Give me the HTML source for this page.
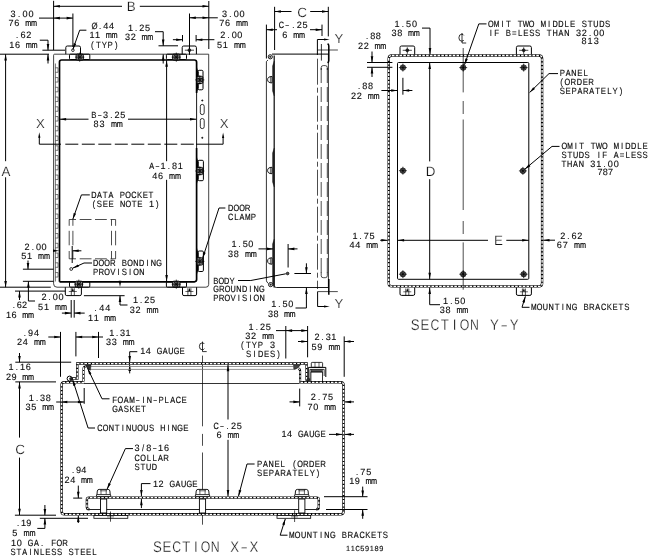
<!DOCTYPE html>
<html><head><meta charset="utf-8"><title>Enclosure drawing</title>
<style>
html,body{margin:0;padding:0;background:#fff;}
body{width:649px;height:556px;overflow:hidden;font-family:"Liberation Mono",monospace;}
svg{display:block;}
</style></head><body>
<svg width="649" height="556" viewBox="0 0 649 556" style="filter:grayscale(1)" text-rendering="geometricPrecision">
<defs><pattern id="h" width="3.2" height="3.2" patternUnits="userSpaceOnUse"><rect width="3.2" height="3.2" fill="#fff"/><path d="M-0.5 3.7 L3.7 -0.5 M-0.5 0.5 L0.5 -0.5 M2.7 3.7 L3.7 2.7" stroke="#222" stroke-width="0.75"/></pattern></defs>
<rect x="0" y="0" width="649" height="556" fill="#fff"/>
<line x1="53.6" y1="0.8" x2="53.6" y2="50" stroke="#000" stroke-width="1"/>
<line x1="208.8" y1="1" x2="208.8" y2="49" stroke="#000" stroke-width="1"/>
<line x1="53.6" y1="6.3" x2="122" y2="6.3" stroke="#000" stroke-width="1"/>
<line x1="139.8" y1="6.3" x2="208.8" y2="6.3" stroke="#000" stroke-width="1"/>
<path d="M53.6 6.3 L59.9 5 L59.9 7.6 Z" fill="#000"/>
<path d="M208.8 6.3 L202.5 7.6 L202.5 5 Z" fill="#000"/>
<text x="126.8" y="10.6" font-family="'Liberation Sans', monospace" font-size="13.4" letter-spacing="0.000" fill="#111" stroke="#fff" stroke-width="0.22" xml:space="preserve">B</text>
<line x1="39" y1="18.1" x2="72.9" y2="18.1" stroke="#000" stroke-width="1"/>
<path d="M53.6 18.1 L59.9 16.8 L59.9 19.4 Z" fill="#000"/>
<path d="M72.9 18.1 L66.6 19.4 L66.6 16.8 Z" fill="#000"/>
<line x1="72.9" y1="13.5" x2="72.9" y2="47" stroke="#000" stroke-width="1"/>
<text transform="translate(0 16.6) scale(1 1)" x="10.5 22.53 28.55" y="0" font-family="'Liberation Sans', sans-serif" font-size="9.1" fill="#111" stroke="#000" stroke-width="0.12">300</text>
<text transform="translate(0 16.6) scale(0.86 1)" x="20.87" y="0" font-family="'Liberation Sans', sans-serif" font-size="9.1" fill="#111" stroke="#000" stroke-width="0.12">.</text>
<text transform="translate(0 26.3) scale(1 1)" x="8.5 14.23" y="0" font-family="'Liberation Sans', sans-serif" font-size="9.1" fill="#111" stroke="#000" stroke-width="0.12">76</text>
<text transform="translate(0 26.3) scale(0.8 1)" x="31.48 38.65" y="0" font-family="'Liberation Sans', sans-serif" font-size="9.1" fill="#111" stroke="#000" stroke-width="0.24">mm</text>
<text transform="translate(0 38.1) scale(0.86 1)" x="18.72" y="0" font-family="'Liberation Sans', sans-serif" font-size="9.1" fill="#111" stroke="#000" stroke-width="0.12">.</text>
<text transform="translate(0 38.1) scale(1 1)" x="20.51 26.35" y="0" font-family="'Liberation Sans', sans-serif" font-size="9.1" fill="#111" stroke="#000" stroke-width="0.12">62</text>
<text transform="translate(0 47.6) scale(1 1)" x="9.3 14.98" y="0" font-family="'Liberation Sans', sans-serif" font-size="9.1" fill="#111" stroke="#000" stroke-width="0.12">16</text>
<text transform="translate(0 47.6) scale(0.8 1)" x="32.3 39.4" y="0" font-family="'Liberation Sans', sans-serif" font-size="9.1" fill="#111" stroke="#000" stroke-width="0.24">mm</text>
<line x1="42.4" y1="50.2" x2="65" y2="50.2" stroke="#000" stroke-width="1"/>
<line x1="0" y1="54.2" x2="49" y2="54.2" stroke="#000" stroke-width="1"/>
<path d="M39.8 40.2 L48 40.2 L48 50.2" fill="none" stroke="#000" stroke-width="1"/>
<path d="M48 50.2 L46.7 43.9 L49.3 43.9 Z" fill="#000"/>
<line x1="48" y1="54.2" x2="48" y2="63.5" stroke="#000" stroke-width="1"/>
<path d="M48 54.2 L49.3 60.5 L46.7 60.5 Z" fill="#000"/>
<text transform="translate(0 28.5) scale(0.86 1)" x="106.4 115.23" y="0" font-family="'Liberation Sans', sans-serif" font-size="9.1" fill="#111" stroke="#000" stroke-width="0.12">Ø.</text>
<text transform="translate(0 28.5) scale(1 1)" x="103.31 108.95" y="0" font-family="'Liberation Sans', sans-serif" font-size="9.1" fill="#111" stroke="#000" stroke-width="0.12">44</text>
<text transform="translate(0 38.1) scale(1 1)" x="89.5 95.11" y="0" font-family="'Liberation Sans', sans-serif" font-size="9.1" fill="#111" stroke="#000" stroke-width="0.12">11</text>
<text transform="translate(0 38.1) scale(0.8 1)" x="132.27 139.28" y="0" font-family="'Liberation Sans', sans-serif" font-size="9.1" fill="#111" stroke="#000" stroke-width="0.24">mm</text>
<text transform="translate(0 47.5) scale(0.86 1)" x="105.81 111.5 118.2 125.14 133.58" y="0" font-family="'Liberation Sans', sans-serif" font-size="9.1" fill="#111" stroke="#000" stroke-width="0.12">(TYP)</text>
<line x1="86.4" y1="30.2" x2="79.7" y2="30.2" stroke="#000" stroke-width="1"/>
<line x1="79.7" y1="30.2" x2="72.9" y2="49.4" stroke="#000" stroke-width="1"/>
<path d="M72.9 49.4 L73.78 43.03 L76.23 43.9 Z" fill="#000"/>
<text transform="translate(0 30.5) scale(1 1)" x="128 139.3 144.95" y="0" font-family="'Liberation Sans', sans-serif" font-size="9.1" fill="#111" stroke="#000" stroke-width="0.12">125</text>
<text transform="translate(0 30.5) scale(0.86 1)" x="157.07" y="0" font-family="'Liberation Sans', sans-serif" font-size="9.1" fill="#111" stroke="#000" stroke-width="0.12">.</text>
<text transform="translate(0 40.2) scale(1 1)" x="125 130.71" y="0" font-family="'Liberation Sans', sans-serif" font-size="9.1" fill="#111" stroke="#000" stroke-width="0.12">32</text>
<text transform="translate(0 40.2) scale(0.8 1)" x="177.02 184.15" y="0" font-family="'Liberation Sans', sans-serif" font-size="9.1" fill="#111" stroke="#000" stroke-width="0.24">mm</text>
<path d="M155 31.7 L163.2 31.7 L163.2 45.8" fill="none" stroke="#000" stroke-width="1"/>
<path d="M163.2 45.8 L161.9 39.5 L164.5 39.5 Z" fill="#000"/>
<line x1="158.5" y1="45.8" x2="178" y2="45.8" stroke="#000" stroke-width="1"/>
<line x1="163.2" y1="54.2" x2="163.2" y2="63.5" stroke="#000" stroke-width="1"/>
<path d="M163.2 54.2 L164.5 60.5 L161.9 60.5 Z" fill="#000"/>
<line x1="189.5" y1="17.8" x2="217.8" y2="17.8" stroke="#000" stroke-width="1"/>
<path d="M189.5 17.8 L195.8 16.5 L195.8 19.1 Z" fill="#000"/>
<path d="M208.8 17.8 L202.5 19.1 L202.5 16.5 Z" fill="#000"/>
<line x1="189.5" y1="13.5" x2="189.5" y2="55" stroke="#000" stroke-width="1"/>
<text transform="translate(0 16.6) scale(1 1)" x="222 233.7 239.55" y="0" font-family="'Liberation Sans', sans-serif" font-size="9.1" fill="#111" stroke="#000" stroke-width="0.12">300</text>
<text transform="translate(0 16.6) scale(0.86 1)" x="266.6" y="0" font-family="'Liberation Sans', sans-serif" font-size="9.1" fill="#111" stroke="#000" stroke-width="0.12">.</text>
<text transform="translate(0 26.3) scale(1 1)" x="219.2 225.01" y="0" font-family="'Liberation Sans', sans-serif" font-size="9.1" fill="#111" stroke="#000" stroke-width="0.12">76</text>
<text transform="translate(0 26.3) scale(0.8 1)" x="295.14 302.4" y="0" font-family="'Liberation Sans', sans-serif" font-size="9.1" fill="#111" stroke="#000" stroke-width="0.24">mm</text>
<text transform="translate(0 38.1) scale(1 1)" x="220.3 231.67 237.35" y="0" font-family="'Liberation Sans', sans-serif" font-size="9.1" fill="#111" stroke="#000" stroke-width="0.12">200</text>
<text transform="translate(0 38.1) scale(0.86 1)" x="264.43" y="0" font-family="'Liberation Sans', sans-serif" font-size="9.1" fill="#111" stroke="#000" stroke-width="0.12">.</text>
<text transform="translate(0 47.8) scale(1 1)" x="217 222.81" y="0" font-family="'Liberation Sans', sans-serif" font-size="9.1" fill="#111" stroke="#000" stroke-width="0.12">51</text>
<text transform="translate(0 47.8) scale(0.8 1)" x="292.39 299.65" y="0" font-family="'Liberation Sans', sans-serif" font-size="9.1" fill="#111" stroke="#000" stroke-width="0.24">mm</text>
<line x1="172.9" y1="39.7" x2="182.5" y2="39.7" stroke="#000" stroke-width="1"/>
<path d="M182.5 39.7 L176.2 41 L176.2 38.4 Z" fill="#000"/>
<line x1="182.5" y1="35" x2="182.5" y2="41.5" stroke="#000" stroke-width="1"/>
<line x1="196.1" y1="39.7" x2="214.4" y2="39.7" stroke="#000" stroke-width="1"/>
<path d="M196.1 39.7 L202.4 38.4 L202.4 41 Z" fill="#000"/>
<line x1="196.1" y1="35" x2="196.1" y2="41.5" stroke="#000" stroke-width="1"/>
<line x1="5.6" y1="54.2" x2="5.6" y2="161.2" stroke="#000" stroke-width="1"/>
<line x1="5.6" y1="177.3" x2="5.6" y2="287.2" stroke="#000" stroke-width="1"/>
<path d="M5.6 54.2 L6.9 60.5 L4.3 60.5 Z" fill="#000"/>
<path d="M5.6 287.2 L4.3 280.9 L6.9 280.9 Z" fill="#000"/>
<line x1="0" y1="287.2" x2="50.8" y2="287.2" stroke="#000" stroke-width="1"/>
<text x="1.4" y="175.7" font-family="'Liberation Sans', monospace" font-size="13.4" letter-spacing="0.000" fill="#111" stroke="#fff" stroke-width="0.22" xml:space="preserve">A</text>
<path d="M53.6 55.2 Q53.6 54.2 54.6 54.2 L208.7 54.2 L208.7 284.4 Q208.7 287.2 205.9 287.2 L57 287.2 Q53.6 287.2 53.6 283.8 Z" fill="none" stroke="#222" stroke-width="0.85"/>
<path d="M59.5 281.8 L59.5 62 Q59.5 60 61.5 60 L194.4 60 Q196.6 60 196.6 62.2 L196.6 93" fill="none" stroke="#000" stroke-width="1.7"/>
<line x1="196.6" y1="93" x2="196.6" y2="148" stroke="#000" stroke-width="0.9"/>
<path d="M196.6 148 L196.6 279.6 Q196.6 281.8 194.4 281.8 L59.5 281.8" fill="none" stroke="#000" stroke-width="1.7"/>
<line x1="55.4" y1="63.5" x2="55.4" y2="281.5" stroke="#333" stroke-width="0.7"/>
<path d="M55.4 67.8 L58 67.8 L58 72.3 L55.4 72.3" fill="none" stroke="#333" stroke-width="0.65"/>
<path d="M55.4 77.55 L58 77.55 L58 82.05 L55.4 82.05" fill="none" stroke="#333" stroke-width="0.65"/>
<path d="M55.4 87.3 L58 87.3 L58 91.8 L55.4 91.8" fill="none" stroke="#333" stroke-width="0.65"/>
<path d="M55.4 97.05 L58 97.05 L58 101.55 L55.4 101.55" fill="none" stroke="#333" stroke-width="0.65"/>
<path d="M55.4 106.8 L58 106.8 L58 111.3 L55.4 111.3" fill="none" stroke="#333" stroke-width="0.65"/>
<path d="M55.4 116.55 L58 116.55 L58 121.05 L55.4 121.05" fill="none" stroke="#333" stroke-width="0.65"/>
<path d="M55.4 126.3 L58 126.3 L58 130.8 L55.4 130.8" fill="none" stroke="#333" stroke-width="0.65"/>
<path d="M55.4 136.05 L58 136.05 L58 140.55 L55.4 140.55" fill="none" stroke="#333" stroke-width="0.65"/>
<path d="M55.4 145.8 L58 145.8 L58 150.3 L55.4 150.3" fill="none" stroke="#333" stroke-width="0.65"/>
<path d="M55.4 155.55 L58 155.55 L58 160.05 L55.4 160.05" fill="none" stroke="#333" stroke-width="0.65"/>
<path d="M55.4 165.3 L58 165.3 L58 169.8 L55.4 169.8" fill="none" stroke="#333" stroke-width="0.65"/>
<path d="M55.4 175.05 L58 175.05 L58 179.55 L55.4 179.55" fill="none" stroke="#333" stroke-width="0.65"/>
<path d="M55.4 184.8 L58 184.8 L58 189.3 L55.4 189.3" fill="none" stroke="#333" stroke-width="0.65"/>
<path d="M55.4 194.55 L58 194.55 L58 199.05 L55.4 199.05" fill="none" stroke="#333" stroke-width="0.65"/>
<path d="M55.4 204.3 L58 204.3 L58 208.8 L55.4 208.8" fill="none" stroke="#333" stroke-width="0.65"/>
<path d="M55.4 214.05 L58 214.05 L58 218.55 L55.4 218.55" fill="none" stroke="#333" stroke-width="0.65"/>
<path d="M55.4 223.8 L58 223.8 L58 228.3 L55.4 228.3" fill="none" stroke="#333" stroke-width="0.65"/>
<path d="M55.4 233.55 L58 233.55 L58 238.05 L55.4 238.05" fill="none" stroke="#333" stroke-width="0.65"/>
<path d="M55.4 243.3 L58 243.3 L58 247.8 L55.4 247.8" fill="none" stroke="#333" stroke-width="0.65"/>
<path d="M55.4 253.05 L58 253.05 L58 257.55 L55.4 257.55" fill="none" stroke="#333" stroke-width="0.65"/>
<path d="M55.4 262.8 L58 262.8 L58 267.3 L55.4 267.3" fill="none" stroke="#333" stroke-width="0.65"/>
<path d="M55.4 272.55 L58 272.55 L58 277.05 L55.4 277.05" fill="none" stroke="#333" stroke-width="0.65"/>
<rect x="69.5" y="54.2" width="20.3" height="5.3" rx="1" fill="none" stroke="#000" stroke-width="1"/>
<rect x="76.1" y="54.15" width="7.2" height="6" rx="1.2" fill="#999" stroke="#000" stroke-width="1"/>
<line x1="78.4" y1="54.15" x2="78.4" y2="60.15" stroke="#000" stroke-width="0.7"/>
<line x1="81" y1="54.15" x2="81" y2="60.15" stroke="#000" stroke-width="0.7"/>
<line x1="77.3" y1="54.75" x2="82.1" y2="59.55" stroke="#000" stroke-width="0.7"/>
<line x1="77.3" y1="59.55" x2="82.1" y2="54.75" stroke="#000" stroke-width="0.7"/>
<line x1="75.1" y1="57.15" x2="84.3" y2="57.15" stroke="#000" stroke-width="0.7"/>
<line x1="79.7" y1="52.55" x2="79.7" y2="61.75" stroke="#000" stroke-width="0.7"/>
<rect x="166.4" y="54.2" width="20.1" height="5.3" rx="1" fill="none" stroke="#000" stroke-width="1"/>
<rect x="172.7" y="54.15" width="7.2" height="6" rx="1.2" fill="#999" stroke="#000" stroke-width="1"/>
<line x1="175" y1="54.15" x2="175" y2="60.15" stroke="#000" stroke-width="0.7"/>
<line x1="177.6" y1="54.15" x2="177.6" y2="60.15" stroke="#000" stroke-width="0.7"/>
<line x1="173.9" y1="54.75" x2="178.7" y2="59.55" stroke="#000" stroke-width="0.7"/>
<line x1="173.9" y1="59.55" x2="178.7" y2="54.75" stroke="#000" stroke-width="0.7"/>
<line x1="171.7" y1="57.15" x2="180.9" y2="57.15" stroke="#000" stroke-width="0.7"/>
<line x1="176.3" y1="52.55" x2="176.3" y2="61.75" stroke="#000" stroke-width="0.7"/>
<rect x="69.5" y="281.8" width="20.3" height="5.4" rx="1" fill="none" stroke="#000" stroke-width="1"/>
<rect x="75.2" y="281.2" width="7.2" height="6" rx="1.2" fill="#999" stroke="#000" stroke-width="1"/>
<line x1="77.5" y1="281.2" x2="77.5" y2="287.2" stroke="#000" stroke-width="0.7"/>
<line x1="80.1" y1="281.2" x2="80.1" y2="287.2" stroke="#000" stroke-width="0.7"/>
<line x1="76.4" y1="281.8" x2="81.2" y2="286.6" stroke="#000" stroke-width="0.7"/>
<line x1="76.4" y1="286.6" x2="81.2" y2="281.8" stroke="#000" stroke-width="0.7"/>
<line x1="74.2" y1="284.2" x2="83.4" y2="284.2" stroke="#000" stroke-width="0.7"/>
<line x1="78.8" y1="279.6" x2="78.8" y2="288.8" stroke="#000" stroke-width="0.7"/>
<rect x="166.4" y="281.8" width="20.1" height="5.4" rx="1" fill="none" stroke="#000" stroke-width="1"/>
<rect x="172.7" y="281.2" width="7.2" height="6" rx="1.2" fill="#999" stroke="#000" stroke-width="1"/>
<line x1="175" y1="281.2" x2="175" y2="287.2" stroke="#000" stroke-width="0.7"/>
<line x1="177.6" y1="281.2" x2="177.6" y2="287.2" stroke="#000" stroke-width="0.7"/>
<line x1="173.9" y1="281.8" x2="178.7" y2="286.6" stroke="#000" stroke-width="0.7"/>
<line x1="173.9" y1="286.6" x2="178.7" y2="281.8" stroke="#000" stroke-width="0.7"/>
<line x1="171.7" y1="284.2" x2="180.9" y2="284.2" stroke="#000" stroke-width="0.7"/>
<line x1="176.3" y1="279.6" x2="176.3" y2="288.8" stroke="#000" stroke-width="0.7"/>
<rect x="198" y="70.3" width="5" height="19.5" rx="1.2" fill="#fff" stroke="#000" stroke-width="1"/>
<path d="M196.6 67.3 L198.4 72.3 L198.4 87.8 L196.6 92.8 Z" fill="#000" stroke="#000" stroke-width="0.3"/>
<rect x="196.8" y="76.3" width="6" height="7.2" rx="1.2" fill="#999" stroke="#000" stroke-width="1"/>
<line x1="196.8" y1="78.6" x2="202.8" y2="78.6" stroke="#000" stroke-width="0.7"/>
<line x1="196.8" y1="81.2" x2="202.8" y2="81.2" stroke="#000" stroke-width="0.7"/>
<line x1="197.4" y1="77.5" x2="202.2" y2="82.3" stroke="#000" stroke-width="0.7"/>
<line x1="197.4" y1="82.3" x2="202.2" y2="77.5" stroke="#000" stroke-width="0.7"/>
<line x1="195.2" y1="79.9" x2="204.4" y2="79.9" stroke="#000" stroke-width="0.7"/>
<line x1="199.8" y1="75.3" x2="199.8" y2="84.5" stroke="#000" stroke-width="0.7"/>
<rect x="198" y="160.3" width="5.4" height="20.4" rx="1.2" fill="#fff" stroke="#000" stroke-width="1"/>
<path d="M196.6 157.3 L198.4 162.3 L198.4 178.7 L196.6 183.7 Z" fill="#000" stroke="#000" stroke-width="0.3"/>
<rect x="196.8" y="167.4" width="6" height="7.2" rx="1.2" fill="#999" stroke="#000" stroke-width="1"/>
<line x1="196.8" y1="169.7" x2="202.8" y2="169.7" stroke="#000" stroke-width="0.7"/>
<line x1="196.8" y1="172.3" x2="202.8" y2="172.3" stroke="#000" stroke-width="0.7"/>
<line x1="197.4" y1="168.6" x2="202.2" y2="173.4" stroke="#000" stroke-width="0.7"/>
<line x1="197.4" y1="173.4" x2="202.2" y2="168.6" stroke="#000" stroke-width="0.7"/>
<line x1="195.2" y1="171" x2="204.4" y2="171" stroke="#000" stroke-width="0.7"/>
<line x1="199.8" y1="166.4" x2="199.8" y2="175.6" stroke="#000" stroke-width="0.7"/>
<rect x="198" y="251" width="5.4" height="20.5" rx="1.2" fill="#fff" stroke="#000" stroke-width="1"/>
<path d="M196.6 248 L198.4 253 L198.4 269.5 L196.6 274.5 Z" fill="#000" stroke="#000" stroke-width="0.3"/>
<rect x="196.8" y="257.8" width="6" height="7.2" rx="1.2" fill="#999" stroke="#000" stroke-width="1"/>
<line x1="196.8" y1="260.1" x2="202.8" y2="260.1" stroke="#000" stroke-width="0.7"/>
<line x1="196.8" y1="262.7" x2="202.8" y2="262.7" stroke="#000" stroke-width="0.7"/>
<line x1="197.4" y1="259" x2="202.2" y2="263.8" stroke="#000" stroke-width="0.7"/>
<line x1="197.4" y1="263.8" x2="202.2" y2="259" stroke="#000" stroke-width="0.7"/>
<line x1="195.2" y1="261.4" x2="204.4" y2="261.4" stroke="#000" stroke-width="0.7"/>
<line x1="199.8" y1="256.8" x2="199.8" y2="266" stroke="#000" stroke-width="0.7"/>
<path d="M65.8 54.2 L65.8 47.5 Q65.8 46 67.3 46 L79 46 Q80.5 46 80.5 47.5 L80.5 54.2" fill="none" stroke="#000" stroke-width="1"/>
<circle cx="72.9" cy="50.2" r="1.3" fill="none" stroke="#000" stroke-width="0.8"/>
<path d="M182.2 54.2 L182.2 47.5 Q182.2 46 183.7 46 L194.9 46 Q196.4 46 196.4 47.5 L196.4 54.2" fill="none" stroke="#000" stroke-width="1"/>
<circle cx="189.4" cy="50.2" r="1.4" fill="#777" stroke="#000" stroke-width="0.8"/>
<line x1="184.8" y1="50.2" x2="194" y2="50.2" stroke="#000" stroke-width="0.7"/>
<line x1="189.4" y1="47.2" x2="189.4" y2="53.8" stroke="#000" stroke-width="0.7"/>
<path d="M65.3 287.2 L65.3 294.1 Q65.3 295.6 66.8 295.6 L79.9 295.6 Q81.4 295.6 81.4 294.1 L81.4 287.2" fill="none" stroke="#000" stroke-width="1"/>
<line x1="71.3" y1="288.2" x2="71.3" y2="295.6" stroke="#000" stroke-width="0.7"/>
<line x1="74.3" y1="288.2" x2="74.3" y2="295.6" stroke="#000" stroke-width="0.7"/>
<line x1="68.8" y1="291.5" x2="76.8" y2="291.5" stroke="#000" stroke-width="0.6"/>
<path d="M72.8 287.7 L73.9 291.2 L71.7 291.2 Z" fill="#000"/>
<path d="M182.5 287.2 L182.5 294.1 Q182.5 295.6 184 295.6 L195.1 295.6 Q196.6 295.6 196.6 294.1 L196.6 287.2" fill="none" stroke="#000" stroke-width="1"/>
<line x1="187.9" y1="288.2" x2="187.9" y2="295.6" stroke="#000" stroke-width="0.7"/>
<line x1="190.9" y1="288.2" x2="190.9" y2="295.6" stroke="#000" stroke-width="0.7"/>
<line x1="185.4" y1="291.5" x2="193.4" y2="291.5" stroke="#000" stroke-width="0.6"/>
<path d="M189.4 287.7 L190.5 291.2 L188.3 291.2 Z" fill="#000"/>
<rect x="200.3" y="104.4" width="3.9" height="10.2" rx="1.9" fill="none" stroke="#000" stroke-width="0.8"/>
<rect x="200.3" y="118.5" width="3.9" height="10.1" rx="1.9" fill="none" stroke="#000" stroke-width="0.8"/>
<circle cx="202.3" cy="100.5" r="0.7" fill="#222" stroke="#000" stroke-width="0.5"/>
<circle cx="202.3" cy="137.8" r="0.7" fill="#222" stroke="#000" stroke-width="0.5"/>
<text transform="translate(0 117.5) scale(0.86 1)" x="106.05 128.08" y="0" font-family="'Liberation Sans', sans-serif" font-size="9.1" fill="#111" stroke="#000" stroke-width="0.12">B.</text>
<text transform="translate(0 117.5) scale(1.45 1)" x="67.18" y="0" font-family="'Liberation Sans', sans-serif" font-size="9.1" fill="#111" stroke="#000" stroke-width="0.12">-</text>
<text transform="translate(0 117.5) scale(1 1)" x="102.91 114.53 120.35" y="0" font-family="'Liberation Sans', sans-serif" font-size="9.1" fill="#111" stroke="#000" stroke-width="0.12">325</text>
<text transform="translate(0 127) scale(1 1)" x="93.6 99.53" y="0" font-family="'Liberation Sans', sans-serif" font-size="9.1" fill="#111" stroke="#000" stroke-width="0.12">83</text>
<text transform="translate(0 127) scale(0.8 1)" x="138.61 146.03" y="0" font-family="'Liberation Sans', sans-serif" font-size="9.1" fill="#111" stroke="#000" stroke-width="0.24">mm</text>
<line x1="59.5" y1="119.2" x2="88.5" y2="119.2" stroke="#000" stroke-width="1"/>
<path d="M59.8 119.2 L66.1 117.9 L66.1 120.5 Z" fill="#000"/>
<line x1="128" y1="119.2" x2="196.3" y2="119.2" stroke="#000" stroke-width="1"/>
<path d="M196.3 119.2 L190 120.5 L190 117.9 Z" fill="#000"/>
<line x1="166.6" y1="60.2" x2="166.6" y2="161.2" stroke="#000" stroke-width="1"/>
<line x1="166.6" y1="179.8" x2="166.6" y2="281.8" stroke="#000" stroke-width="1"/>
<path d="M166.6 60.4 L167.9 66.7 L165.3 66.7 Z" fill="#000"/>
<path d="M166.6 281.4 L165.3 275.1 L167.9 275.1 Z" fill="#000"/>
<text transform="translate(0 169.3) scale(0.8 1)" x="186.5" y="0" font-family="'Liberation Sans', sans-serif" font-size="9.1" fill="#111" stroke="#000" stroke-width="0.24">A</text>
<text transform="translate(0 169.3) scale(1.45 1)" x="106.99" y="0" font-family="'Liberation Sans', sans-serif" font-size="9.1" fill="#111" stroke="#000" stroke-width="0.12">-</text>
<text transform="translate(0 169.3) scale(1 1)" x="160.53 171.94 177.65" y="0" font-family="'Liberation Sans', sans-serif" font-size="9.1" fill="#111" stroke="#000" stroke-width="0.12">181</text>
<text transform="translate(0 169.3) scale(0.86 1)" x="194.96" y="0" font-family="'Liberation Sans', sans-serif" font-size="9.1" fill="#111" stroke="#000" stroke-width="0.12">.</text>
<text transform="translate(0 179) scale(1 1)" x="152.2 158.01" y="0" font-family="'Liberation Sans', sans-serif" font-size="9.1" fill="#111" stroke="#000" stroke-width="0.12">46</text>
<text transform="translate(0 179) scale(0.8 1)" x="211.39 218.65" y="0" font-family="'Liberation Sans', sans-serif" font-size="9.1" fill="#111" stroke="#000" stroke-width="0.24">mm</text>
<text x="36" y="127.7" font-family="'Liberation Sans', monospace" font-size="13.2" letter-spacing="0.000" fill="#111" stroke="#fff" stroke-width="0.22" xml:space="preserve">X</text>
<text x="219.8" y="127.9" font-family="'Liberation Sans', monospace" font-size="13.2" letter-spacing="0.000" fill="#111" stroke="#fff" stroke-width="0.22" xml:space="preserve">X</text>
<path d="M39.3 137 L39.3 144.2 L61 144.2" fill="none" stroke="#000" stroke-width="1"/>
<path d="M39.3 132.2 L40.4 137.7 L38.2 137.7 Z" fill="#000"/>
<line x1="65.3" y1="144.2" x2="196" y2="144.2" stroke="#000" stroke-width="1" stroke-dasharray="13 3.5"/>
<path d="M196 144.2 L223.1 144.2 L223.1 137" fill="none" stroke="#000" stroke-width="1"/>
<path d="M223.1 132.6 L224.2 138.1 L222 138.1 Z" fill="#000"/>
<text transform="translate(0 197.8) scale(0.8 1)" x="114 121.38 135.67 156.62 164.04" y="0" font-family="'Liberation Sans', sans-serif" font-size="9.1" fill="#111" stroke="#000" stroke-width="0.24">DAAOC</text>
<text transform="translate(0 197.8) scale(0.86 1)" x="119.62 139.32 159.27 165.92 172.82" y="0" font-family="'Liberation Sans', sans-serif" font-size="9.1" fill="#111" stroke="#000" stroke-width="0.12">TPKET</text>
<text transform="translate(0 206.8) scale(0.86 1)" x="107.44 112.65 119.36 126.07 153.16 159.62 181.25" y="0" font-family="'Liberation Sans', sans-serif" font-size="9.1" fill="#111" stroke="#000" stroke-width="0.12">(SEETE)</text>
<text transform="translate(0 206.8) scale(0.8 1)" x="149.93 156.87" y="0" font-family="'Liberation Sans', sans-serif" font-size="9.1" fill="#111" stroke="#000" stroke-width="0.24">NO</text>
<text transform="translate(0 206.8) scale(1 1)" x="148.89" y="0" font-family="'Liberation Sans', sans-serif" font-size="9.1" fill="#111" stroke="#000" stroke-width="0.12">1</text>
<line x1="89.8" y1="194.9" x2="81.4" y2="194.9" stroke="#000" stroke-width="1"/>
<line x1="81.4" y1="194.9" x2="72.8" y2="219.3" stroke="#000" stroke-width="1"/>
<path d="M72.8 219.3 L73.67 212.93 L76.12 213.79 Z" fill="#000"/>
<line x1="69.2" y1="219.5" x2="69.2" y2="225.8" stroke="#000" stroke-width="0.7"/>
<line x1="69.2" y1="230.8" x2="69.2" y2="245.3" stroke="#000" stroke-width="0.7"/>
<line x1="69.2" y1="251" x2="69.2" y2="258.8" stroke="#000" stroke-width="0.7"/>
<line x1="72.9" y1="219.5" x2="72.9" y2="225.8" stroke="#000" stroke-width="0.7"/>
<line x1="72.9" y1="230.8" x2="72.9" y2="245.3" stroke="#000" stroke-width="0.7"/>
<line x1="72.9" y1="251" x2="72.9" y2="258.8" stroke="#000" stroke-width="0.7"/>
<line x1="111.5" y1="219.5" x2="111.5" y2="225.8" stroke="#000" stroke-width="0.7"/>
<line x1="111.5" y1="230.8" x2="111.5" y2="245.3" stroke="#000" stroke-width="0.7"/>
<line x1="111.5" y1="251" x2="111.5" y2="258.8" stroke="#000" stroke-width="0.7"/>
<line x1="115.6" y1="219.5" x2="115.6" y2="225.8" stroke="#000" stroke-width="0.7"/>
<line x1="115.6" y1="230.8" x2="115.6" y2="245.3" stroke="#000" stroke-width="0.7"/>
<line x1="115.6" y1="251" x2="115.6" y2="258.8" stroke="#000" stroke-width="0.7"/>
<line x1="69.2" y1="219.5" x2="76" y2="219.5" stroke="#000" stroke-width="0.7"/>
<line x1="79.7" y1="219.5" x2="91.5" y2="219.5" stroke="#000" stroke-width="0.7"/>
<line x1="95" y1="219.5" x2="106.8" y2="219.5" stroke="#000" stroke-width="0.7"/>
<line x1="110.5" y1="219.5" x2="115.6" y2="219.5" stroke="#000" stroke-width="0.7"/>
<line x1="69.2" y1="258.8" x2="76" y2="258.8" stroke="#000" stroke-width="0.7"/>
<line x1="79.7" y1="258.8" x2="91.5" y2="258.8" stroke="#000" stroke-width="0.7"/>
<line x1="95" y1="258.8" x2="106.8" y2="258.8" stroke="#000" stroke-width="0.7"/>
<line x1="110.5" y1="258.8" x2="115.6" y2="258.8" stroke="#000" stroke-width="0.7"/>
<text transform="translate(0 249.5) scale(1 1)" x="24.6 35.9 41.55" y="0" font-family="'Liberation Sans', sans-serif" font-size="9.1" fill="#111" stroke="#000" stroke-width="0.12">200</text>
<text transform="translate(0 249.5) scale(0.86 1)" x="36.84" y="0" font-family="'Liberation Sans', sans-serif" font-size="9.1" fill="#111" stroke="#000" stroke-width="0.12">.</text>
<text transform="translate(0 258.8) scale(1 1)" x="21.2 27.01" y="0" font-family="'Liberation Sans', sans-serif" font-size="9.1" fill="#111" stroke="#000" stroke-width="0.12">51</text>
<text transform="translate(0 258.8) scale(0.8 1)" x="47.64 54.9" y="0" font-family="'Liberation Sans', sans-serif" font-size="9.1" fill="#111" stroke="#000" stroke-width="0.24">mm</text>
<path d="M59.3 250.8 L53 252.1 L53 249.5 Z" fill="#000"/>
<line x1="72.2" y1="246" x2="72.2" y2="263" stroke="#000" stroke-width="1"/>
<line x1="72.4" y1="250.8" x2="81.4" y2="250.8" stroke="#000" stroke-width="1"/>
<path d="M72.4 250.8 L78.7 249.5 L78.7 252.1 Z" fill="#000"/>
<line x1="22.9" y1="269.2" x2="53.6" y2="269.2" stroke="#000" stroke-width="1"/>
<line x1="22.9" y1="281.3" x2="53.6" y2="281.3" stroke="#000" stroke-width="1"/>
<line x1="28" y1="260.5" x2="28" y2="269.2" stroke="#000" stroke-width="1"/>
<path d="M28 269.2 L26.7 262.9 L29.3 262.9 Z" fill="#000"/>
<path d="M28.4 281.3 L28.4 301 L35 301" fill="none" stroke="#000" stroke-width="1"/>
<path d="M28.4 281.3 L29.7 287.6 L27.1 287.6 Z" fill="#000"/>
<text transform="translate(0 300) scale(1 1)" x="41.5 52.87 58.55" y="0" font-family="'Liberation Sans', sans-serif" font-size="9.1" fill="#111" stroke="#000" stroke-width="0.12">200</text>
<text transform="translate(0 300) scale(0.86 1)" x="56.53" y="0" font-family="'Liberation Sans', sans-serif" font-size="9.1" fill="#111" stroke="#000" stroke-width="0.12">.</text>
<text transform="translate(0 309.6) scale(1 1)" x="38.1 43.93" y="0" font-family="'Liberation Sans', sans-serif" font-size="9.1" fill="#111" stroke="#000" stroke-width="0.12">51</text>
<text transform="translate(0 309.6) scale(0.8 1)" x="68.86 76.15" y="0" font-family="'Liberation Sans', sans-serif" font-size="9.1" fill="#111" stroke="#000" stroke-width="0.24">mm</text>
<text transform="translate(0 266.4) scale(0.8 1)" x="116.12 123.07 130.29 159.17 166.67 173.89 188.33 195.28" y="0" font-family="'Liberation Sans', sans-serif" font-size="9.1" fill="#111" stroke="#000" stroke-width="0.24">DOOONDNG</text>
<text transform="translate(0 266.4) scale(0.86 1)" x="127.94 141.63 170.25" y="0" font-family="'Liberation Sans', sans-serif" font-size="9.1" fill="#111" stroke="#000" stroke-width="0.12">RBI</text>
<text transform="translate(0 275.3) scale(0.86 1)" x="108.02 114.5 128.2 136.68 141.65 150.13" y="0" font-family="'Liberation Sans', sans-serif" font-size="9.1" fill="#111" stroke="#000" stroke-width="0.12">PRVISI</text>
<text transform="translate(0 275.3) scale(0.8 1)" x="130.29 166.44 173.95" y="0" font-family="'Liberation Sans', sans-serif" font-size="9.1" fill="#111" stroke="#000" stroke-width="0.24">OON</text>
<circle cx="71.2" cy="269" r="1.4" fill="none" stroke="#000" stroke-width="0.8"/>
<line x1="92" y1="263" x2="84" y2="263" stroke="#000" stroke-width="1"/>
<line x1="84" y1="263" x2="72.6" y2="268.2" stroke="#000" stroke-width="1"/>
<path d="M72.6 268.2 L77.79 264.4 L78.87 266.77 Z" fill="#000"/>
<line x1="15" y1="291.1" x2="65.3" y2="291.1" stroke="#000" stroke-width="1"/>
<line x1="19.5" y1="291.1" x2="19.5" y2="300" stroke="#000" stroke-width="1"/>
<path d="M19.5 291.1 L20.8 297.4 L18.2 297.4 Z" fill="#000"/>
<text transform="translate(0 308.4) scale(0.86 1)" x="14.77" y="0" font-family="'Liberation Sans', sans-serif" font-size="9.1" fill="#111" stroke="#000" stroke-width="0.12">.</text>
<text transform="translate(0 308.4) scale(1 1)" x="16.66 22.05" y="0" font-family="'Liberation Sans', sans-serif" font-size="9.1" fill="#111" stroke="#000" stroke-width="0.12">62</text>
<text transform="translate(0 318) scale(1 1)" x="6 11.61" y="0" font-family="'Liberation Sans', sans-serif" font-size="9.1" fill="#111" stroke="#000" stroke-width="0.12">16</text>
<text transform="translate(0 318) scale(0.8 1)" x="27.89 34.9" y="0" font-family="'Liberation Sans', sans-serif" font-size="9.1" fill="#111" stroke="#000" stroke-width="0.24">mm</text>
<line x1="71.2" y1="300" x2="71.2" y2="317.7" stroke="#000" stroke-width="1"/>
<line x1="74.2" y1="300" x2="74.2" y2="317.7" stroke="#000" stroke-width="1"/>
<line x1="61.9" y1="313.1" x2="71.2" y2="313.1" stroke="#000" stroke-width="1"/>
<path d="M71.2 313.1 L64.9 314.4 L64.9 311.8 Z" fill="#000"/>
<line x1="74.2" y1="313.1" x2="84.7" y2="313.1" stroke="#000" stroke-width="1"/>
<path d="M74.2 313.1 L80.5 311.8 L80.5 314.4 Z" fill="#000"/>
<text transform="translate(0 311.3) scale(0.86 1)" x="110" y="0" font-family="'Liberation Sans', sans-serif" font-size="9.1" fill="#111" stroke="#000" stroke-width="0.12">.</text>
<text transform="translate(0 311.3) scale(1 1)" x="99.16 105.15" y="0" font-family="'Liberation Sans', sans-serif" font-size="9.1" fill="#111" stroke="#000" stroke-width="0.12">44</text>
<text transform="translate(0 321) scale(1 1)" x="88.1 93.68" y="0" font-family="'Liberation Sans', sans-serif" font-size="9.1" fill="#111" stroke="#000" stroke-width="0.12">11</text>
<text transform="translate(0 321) scale(0.8 1)" x="130.42 137.4" y="0" font-family="'Liberation Sans', sans-serif" font-size="9.1" fill="#111" stroke="#000" stroke-width="0.24">mm</text>
<line x1="83.9" y1="295.7" x2="124.6" y2="295.7" stroke="#000" stroke-width="1"/>
<path d="M120 287 L118.7 280.7 L121.3 280.7 Z" fill="#000"/>
<path d="M120 295.7 L120 305 L127.5 305" fill="none" stroke="#000" stroke-width="1"/>
<path d="M120 295.7 L121.3 302 L118.7 302 Z" fill="#000"/>
<text transform="translate(0 303.3) scale(1 1)" x="133 144.3 149.95" y="0" font-family="'Liberation Sans', sans-serif" font-size="9.1" fill="#111" stroke="#000" stroke-width="0.12">125</text>
<text transform="translate(0 303.3) scale(0.86 1)" x="162.88" y="0" font-family="'Liberation Sans', sans-serif" font-size="9.1" fill="#111" stroke="#000" stroke-width="0.12">.</text>
<text transform="translate(0 312.6) scale(1 1)" x="129.7 135.51" y="0" font-family="'Liberation Sans', sans-serif" font-size="9.1" fill="#111" stroke="#000" stroke-width="0.12">32</text>
<text transform="translate(0 312.6) scale(0.8 1)" x="183.27 190.53" y="0" font-family="'Liberation Sans', sans-serif" font-size="9.1" fill="#111" stroke="#000" stroke-width="0.24">mm</text>
<text transform="translate(0 211.4) scale(0.8 1)" x="285 291.84 298.95" y="0" font-family="'Liberation Sans', sans-serif" font-size="9.1" fill="#111" stroke="#000" stroke-width="0.24">DOO</text>
<text transform="translate(0 211.4) scale(0.86 1)" x="284.73" y="0" font-family="'Liberation Sans', sans-serif" font-size="9.1" fill="#111" stroke="#000" stroke-width="0.12">R</text>
<text transform="translate(0 220) scale(0.8 1)" x="285 299.46" y="0" font-family="'Liberation Sans', sans-serif" font-size="9.1" fill="#111" stroke="#000" stroke-width="0.24">CA</text>
<text transform="translate(0 220) scale(0.86 1)" x="272.26 291.62" y="0" font-family="'Liberation Sans', sans-serif" font-size="9.1" fill="#111" stroke="#000" stroke-width="0.12">LP</text>
<text transform="translate(0 220) scale(0.74 1)" x="330.94" y="0" font-family="'Liberation Sans', sans-serif" font-size="9.1" fill="#111" stroke="#000" stroke-width="0.24">M</text>
<line x1="225.4" y1="208" x2="219" y2="208" stroke="#000" stroke-width="1"/>
<line x1="219" y1="208" x2="202.6" y2="258.3" stroke="#000" stroke-width="1"/>
<path d="M202.6 258.3 L203.32 251.91 L205.79 252.71 Z" fill="#000"/>
<line x1="274.6" y1="6.8" x2="274.6" y2="50" stroke="#000" stroke-width="1"/>
<line x1="328.3" y1="6.8" x2="328.3" y2="36.4" stroke="#000" stroke-width="1"/>
<line x1="274.6" y1="11.5" x2="291.5" y2="11.5" stroke="#000" stroke-width="1"/>
<line x1="310.2" y1="11.5" x2="328.3" y2="11.5" stroke="#000" stroke-width="1"/>
<path d="M274.6 11.5 L280.9 10.2 L280.9 12.8 Z" fill="#000"/>
<path d="M328.3 11.5 L322 12.8 L322 10.2 Z" fill="#000"/>
<text x="297.3" y="16.5" font-family="'Liberation Sans', monospace" font-size="13.4" letter-spacing="0.000" fill="#111" stroke="#fff" stroke-width="0.22" xml:space="preserve">C</text>
<line x1="266.4" y1="24.6" x2="266.4" y2="58.5" stroke="#000" stroke-width="1"/>
<line x1="322" y1="24.6" x2="322" y2="36" stroke="#000" stroke-width="1"/>
<line x1="266.4" y1="29.7" x2="277" y2="29.7" stroke="#000" stroke-width="1"/>
<line x1="310" y1="29.7" x2="322" y2="29.7" stroke="#000" stroke-width="1"/>
<path d="M266.4 29.7 L272.7 28.4 L272.7 31 Z" fill="#000"/>
<path d="M322 29.7 L315.7 31 L315.7 28.4 Z" fill="#000"/>
<text transform="translate(0 28) scale(0.8 1)" x="348.5" y="0" font-family="'Liberation Sans', sans-serif" font-size="9.1" fill="#111" stroke="#000" stroke-width="0.24">C</text>
<text transform="translate(0 28) scale(1.45 1)" x="196.64" y="0" font-family="'Liberation Sans', sans-serif" font-size="9.1" fill="#111" stroke="#000" stroke-width="0.12">-</text>
<text transform="translate(0 28) scale(0.86 1)" x="339.71" y="0" font-family="'Liberation Sans', sans-serif" font-size="9.1" fill="#111" stroke="#000" stroke-width="0.12">.</text>
<text transform="translate(0 28) scale(1 1)" x="296.64 302.55" y="0" font-family="'Liberation Sans', sans-serif" font-size="9.1" fill="#111" stroke="#000" stroke-width="0.12">25</text>
<text transform="translate(0 37.6) scale(1 1)" x="282.2" y="0" font-family="'Liberation Sans', sans-serif" font-size="9.1" fill="#111" stroke="#000" stroke-width="0.12">6</text>
<text transform="translate(0 37.6) scale(0.8 1)" x="366.47 373.65" y="0" font-family="'Liberation Sans', sans-serif" font-size="9.1" fill="#111" stroke="#000" stroke-width="0.24">mm</text>
<path d="M317.4 55 L317.4 39.5 L324 39.5" fill="none" stroke="#000" stroke-width="1"/>
<path d="M329.8 39.5 L324 40.6 L324 38.4 Z" fill="#000"/>
<text x="334.5" y="42.5" font-family="'Liberation Sans', monospace" font-size="13.2" letter-spacing="0.000" fill="#111" stroke="#fff" stroke-width="0.22" xml:space="preserve">Y</text>
<path d="M317.6 291.6 L317.6 306.5 L324 306.5" fill="none" stroke="#000" stroke-width="1"/>
<path d="M329.8 306.5 L324 307.6 L324 305.4 Z" fill="#000"/>
<text x="334.5" y="308.1" font-family="'Liberation Sans', monospace" font-size="13.2" letter-spacing="0.000" fill="#111" stroke="#fff" stroke-width="0.22" xml:space="preserve">Y</text>
<line x1="317.5" y1="58.7" x2="317.5" y2="289" stroke="#000" stroke-width="0.7" stroke-dasharray="26 3 5 3"/>
<line x1="272" y1="54.1" x2="328.4" y2="54.1" stroke="#000" stroke-width="1"/>
<line x1="328.4" y1="54.1" x2="328.4" y2="287.5" stroke="#000" stroke-width="0.8"/>
<path d="M274 285 Q274 287.5 276.4 287.5 L328.4 287.5" fill="none" stroke="#000" stroke-width="0.9"/>
<path d="M266.4 280.3 L266.4 61.5 L268 60" fill="none" stroke="#000" stroke-width="0.8"/>
<line x1="274.2" y1="55.5" x2="274.2" y2="285.5" stroke="#111" stroke-width="1.25"/>
<path d="M266.4 280.3 Q266.6 282.5 268.2 283.2" fill="none" stroke="#000" stroke-width="0.8"/>
<circle cx="270.3" cy="56.8" r="2.1" fill="none" stroke="#000" stroke-width="0.9"/>
<circle cx="270.3" cy="56.8" r="0.8" fill="#333" stroke="#000" stroke-width="0.5"/>
<circle cx="270.6" cy="284.6" r="2.1" fill="none" stroke="#000" stroke-width="0.9"/>
<circle cx="270.6" cy="284.6" r="0.8" fill="#333" stroke="#000" stroke-width="0.5"/>
<path d="M274.2 61 L272.5 66 L272.5 91 L274.2 96 Z" fill="#222" stroke="#000" stroke-width="0.3"/>
<path d="M274.2 148 L272.5 153 L272.5 182 L274.2 187 Z" fill="#222" stroke="#000" stroke-width="0.3"/>
<path d="M274.2 239 L272.5 244 L272.5 283 L274.2 288 Z" fill="#222" stroke="#000" stroke-width="0.3"/>
<path d="M272 76.5 Q267.6 76.5 267.6 79.7 Q267.6 82.9 272 82.9 Z" fill="#fff" stroke="#000" stroke-width="0.9"/>
<line x1="270.4" y1="76.7" x2="270.4" y2="82.7" stroke="#000" stroke-width="0.6"/>
<path d="M272 167.3 Q267.6 167.3 267.6 170.5 Q267.6 173.7 272 173.7 Z" fill="#fff" stroke="#000" stroke-width="0.9"/>
<line x1="270.4" y1="167.5" x2="270.4" y2="173.5" stroke="#000" stroke-width="0.6"/>
<path d="M272 257.8 Q267.6 257.8 267.6 261 Q267.6 264.2 272 264.2 Z" fill="#fff" stroke="#000" stroke-width="0.9"/>
<line x1="270.4" y1="258" x2="270.4" y2="264" stroke="#000" stroke-width="0.6"/>
<line x1="321.4" y1="44" x2="321.4" y2="60.6" stroke="#000" stroke-width="0.8"/>
<path d="M327.6 43.6 Q328.8 44.5 328.8 46 L328.8 60.5 Q328.8 62 327.6 62.9" fill="none" stroke="#000" stroke-width="1.5"/>
<line x1="317.4" y1="50" x2="337.9" y2="50" stroke="#000" stroke-width="0.7"/>
<line x1="321.4" y1="281" x2="321.4" y2="297" stroke="#000" stroke-width="0"/>
<path d="M328.8 279 L328.8 294.7" fill="none" stroke="#000" stroke-width="1.5"/>
<line x1="317.6" y1="291.6" x2="337.8" y2="291.6" stroke="#000" stroke-width="0.7"/>
<line x1="321.2" y1="68" x2="321.2" y2="276" stroke="#000" stroke-width="0.7" stroke-dasharray="15 4"/>
<line x1="327.3" y1="68" x2="327.3" y2="276" stroke="#000" stroke-width="0.7" stroke-dasharray="15 4"/>
<path d="M321.2 70 L321.2 67.6 Q321.2 65.6 323.2 65.6 L325.3 65.6 Q327.3 65.6 327.3 67.6 L327.3 70" fill="none" stroke="#000" stroke-width="0.7"/>
<path d="M321.2 272.5 L321.2 275.7 Q321.2 277.7 323.2 277.7 L325.3 277.7 Q327.3 277.7 327.3 275.7 L327.3 272.5" fill="none" stroke="#000" stroke-width="0.7"/>
<text transform="translate(0 247) scale(1 1)" x="231.4 242.7 248.35" y="0" font-family="'Liberation Sans', sans-serif" font-size="9.1" fill="#111" stroke="#000" stroke-width="0.12">150</text>
<text transform="translate(0 247) scale(0.86 1)" x="277.3" y="0" font-family="'Liberation Sans', sans-serif" font-size="9.1" fill="#111" stroke="#000" stroke-width="0.12">.</text>
<text transform="translate(0 256.8) scale(1 1)" x="228 233.81" y="0" font-family="'Liberation Sans', sans-serif" font-size="9.1" fill="#111" stroke="#000" stroke-width="0.12">38</text>
<text transform="translate(0 256.8) scale(0.8 1)" x="306.14 313.4" y="0" font-family="'Liberation Sans', sans-serif" font-size="9.1" fill="#111" stroke="#000" stroke-width="0.24">mm</text>
<line x1="258.5" y1="248.9" x2="273" y2="248.9" stroke="#000" stroke-width="1"/>
<path d="M273.2 248.9 L266.9 250.2 L266.9 247.6 Z" fill="#000"/>
<line x1="288.1" y1="244" x2="288.1" y2="267.5" stroke="#000" stroke-width="1"/>
<line x1="288.1" y1="248.9" x2="297.5" y2="248.9" stroke="#000" stroke-width="1"/>
<path d="M288.1 248.9 L294.4 247.6 L294.4 250.2 Z" fill="#000"/>
<circle cx="287.6" cy="273.5" r="1.3" fill="#555" stroke="#000" stroke-width="0.8"/>
<text transform="translate(0 283.9) scale(0.86 1)" x="247.91 266.86" y="0" font-family="'Liberation Sans', sans-serif" font-size="9.1" fill="#111" stroke="#000" stroke-width="0.12">BY</text>
<text transform="translate(0 283.9) scale(0.8 1)" x="272.99 280.06" y="0" font-family="'Liberation Sans', sans-serif" font-size="9.1" fill="#111" stroke="#000" stroke-width="0.24">OD</text>
<text transform="translate(0 292.4) scale(0.8 1)" x="266.5 280.82 288.25 295.41 302.57 316.89 323.78" y="0" font-family="'Liberation Sans', sans-serif" font-size="9.1" fill="#111" stroke="#000" stroke-width="0.24">GOUNDNG</text>
<text transform="translate(0 292.4) scale(0.86 1)" x="254.59 289.9" y="0" font-family="'Liberation Sans', sans-serif" font-size="9.1" fill="#111" stroke="#000" stroke-width="0.12">RI</text>
<text transform="translate(0 301) scale(0.86 1)" x="247.91 254.38 268.09 276.56 281.54 290.02" y="0" font-family="'Liberation Sans', sans-serif" font-size="9.1" fill="#111" stroke="#000" stroke-width="0.12">PRVISI</text>
<text transform="translate(0 301) scale(0.8 1)" x="280.67 316.82 324.32" y="0" font-family="'Liberation Sans', sans-serif" font-size="9.1" fill="#111" stroke="#000" stroke-width="0.24">OON</text>
<path d="M238 280.5 L250.8 280.5 L285.8 273.8" fill="none" stroke="#000" stroke-width="1"/>
<line x1="294.4" y1="273.5" x2="311" y2="273.5" stroke="#000" stroke-width="1"/>
<line x1="306.4" y1="263.3" x2="306.4" y2="273.5" stroke="#000" stroke-width="1"/>
<path d="M306.4 273.5 L305.1 267.2 L307.7 267.2 Z" fill="#000"/>
<path d="M306.4 287.5 L306.4 308 L295.5 308" fill="none" stroke="#000" stroke-width="1"/>
<path d="M306.4 287.7 L307.7 294 L305.1 294 Z" fill="#000"/>
<text transform="translate(0 307.4) scale(1 1)" x="271.2 282.5 288.15" y="0" font-family="'Liberation Sans', sans-serif" font-size="9.1" fill="#111" stroke="#000" stroke-width="0.12">150</text>
<text transform="translate(0 307.4) scale(0.86 1)" x="323.58" y="0" font-family="'Liberation Sans', sans-serif" font-size="9.1" fill="#111" stroke="#000" stroke-width="0.12">.</text>
<text transform="translate(0 317) scale(1 1)" x="267.9 273.43" y="0" font-family="'Liberation Sans', sans-serif" font-size="9.1" fill="#111" stroke="#000" stroke-width="0.12">38</text>
<text transform="translate(0 317) scale(0.8 1)" x="354.98 361.9" y="0" font-family="'Liberation Sans', sans-serif" font-size="9.1" fill="#111" stroke="#000" stroke-width="0.24">mm</text>
<path d="M391.9 55.5 L538.9 55.5 Q542.1 55.5 542.1 58.7 L542.1 283.2 Q542.1 286.4 538.9 286.4 L391.9 286.4 Q388.7 286.4 388.7 283.2 L388.7 58.7 Q388.7 55.5 391.9 55.5 Z" fill="none" stroke="#000" stroke-width="2.4"/>
<path d="M391.9 55.5 L538.9 55.5 Q542.1 55.5 542.1 58.7 L542.1 283.2 Q542.1 286.4 538.9 286.4 L391.9 286.4 Q388.7 286.4 388.7 283.2 L388.7 58.7 Q388.7 55.5 391.9 55.5 Z" fill="none" stroke="#fff" stroke-width="1.35" stroke-dasharray="2.6 1.2"/>
<rect x="397.5" y="62.5" width="131.3" height="216.8" rx="1" fill="none" stroke="#000" stroke-width="1"/>
<circle cx="402.9" cy="67.6" r="2.7" fill="#666" stroke="#222" stroke-width="0.8"/>
<line x1="400.9" y1="65.6" x2="404.9" y2="69.6" stroke="#000" stroke-width="0.6"/>
<line x1="400.9" y1="69.6" x2="404.9" y2="65.6" stroke="#000" stroke-width="0.6"/>
<line x1="398.9" y1="67.6" x2="406.9" y2="67.6" stroke="#000" stroke-width="0.7"/>
<line x1="402.9" y1="63.6" x2="402.9" y2="71.6" stroke="#000" stroke-width="0.7"/>
<circle cx="463.2" cy="67.6" r="2.7" fill="#666" stroke="#222" stroke-width="0.8"/>
<line x1="461.2" y1="65.6" x2="465.2" y2="69.6" stroke="#000" stroke-width="0.6"/>
<line x1="461.2" y1="69.6" x2="465.2" y2="65.6" stroke="#000" stroke-width="0.6"/>
<line x1="459.2" y1="67.6" x2="467.2" y2="67.6" stroke="#000" stroke-width="0.7"/>
<line x1="463.2" y1="63.6" x2="463.2" y2="71.6" stroke="#000" stroke-width="0.7"/>
<circle cx="523.7" cy="67.6" r="2.7" fill="#666" stroke="#222" stroke-width="0.8"/>
<line x1="521.7" y1="65.6" x2="525.7" y2="69.6" stroke="#000" stroke-width="0.6"/>
<line x1="521.7" y1="69.6" x2="525.7" y2="65.6" stroke="#000" stroke-width="0.6"/>
<line x1="519.7" y1="67.6" x2="527.7" y2="67.6" stroke="#000" stroke-width="0.7"/>
<line x1="523.7" y1="63.6" x2="523.7" y2="71.6" stroke="#000" stroke-width="0.7"/>
<circle cx="402.9" cy="170.7" r="2.7" fill="#666" stroke="#222" stroke-width="0.8"/>
<line x1="400.9" y1="168.7" x2="404.9" y2="172.7" stroke="#000" stroke-width="0.6"/>
<line x1="400.9" y1="172.7" x2="404.9" y2="168.7" stroke="#000" stroke-width="0.6"/>
<line x1="398.9" y1="170.7" x2="406.9" y2="170.7" stroke="#000" stroke-width="0.7"/>
<line x1="402.9" y1="166.7" x2="402.9" y2="174.7" stroke="#000" stroke-width="0.7"/>
<circle cx="522.9" cy="170.9" r="2.7" fill="#666" stroke="#222" stroke-width="0.8"/>
<line x1="520.9" y1="168.9" x2="524.9" y2="172.9" stroke="#000" stroke-width="0.6"/>
<line x1="520.9" y1="172.9" x2="524.9" y2="168.9" stroke="#000" stroke-width="0.6"/>
<line x1="518.9" y1="170.9" x2="526.9" y2="170.9" stroke="#000" stroke-width="0.7"/>
<line x1="522.9" y1="166.9" x2="522.9" y2="174.9" stroke="#000" stroke-width="0.7"/>
<circle cx="402.9" cy="274.2" r="2.7" fill="#666" stroke="#222" stroke-width="0.8"/>
<line x1="400.9" y1="272.2" x2="404.9" y2="276.2" stroke="#000" stroke-width="0.6"/>
<line x1="400.9" y1="276.2" x2="404.9" y2="272.2" stroke="#000" stroke-width="0.6"/>
<line x1="398.9" y1="274.2" x2="406.9" y2="274.2" stroke="#000" stroke-width="0.7"/>
<line x1="402.9" y1="270.2" x2="402.9" y2="278.2" stroke="#000" stroke-width="0.7"/>
<circle cx="463.2" cy="274.2" r="2.7" fill="#666" stroke="#222" stroke-width="0.8"/>
<line x1="461.2" y1="272.2" x2="465.2" y2="276.2" stroke="#000" stroke-width="0.6"/>
<line x1="461.2" y1="276.2" x2="465.2" y2="272.2" stroke="#000" stroke-width="0.6"/>
<line x1="459.2" y1="274.2" x2="467.2" y2="274.2" stroke="#000" stroke-width="0.7"/>
<line x1="463.2" y1="270.2" x2="463.2" y2="278.2" stroke="#000" stroke-width="0.7"/>
<circle cx="523.7" cy="274.2" r="2.7" fill="#666" stroke="#222" stroke-width="0.8"/>
<line x1="521.7" y1="272.2" x2="525.7" y2="276.2" stroke="#000" stroke-width="0.6"/>
<line x1="521.7" y1="276.2" x2="525.7" y2="272.2" stroke="#000" stroke-width="0.6"/>
<line x1="519.7" y1="274.2" x2="527.7" y2="274.2" stroke="#000" stroke-width="0.7"/>
<line x1="523.7" y1="270.2" x2="523.7" y2="278.2" stroke="#000" stroke-width="0.7"/>
<path d="M400 54.4 L400 47.5 Q400 46 401.5 46 L413.2 46 Q414.7 46 414.7 47.5 L414.7 54.4" fill="none" stroke="#000" stroke-width="1"/>
<circle cx="407.3" cy="50.3" r="1.4" fill="#777" stroke="#000" stroke-width="0.8"/>
<line x1="402.7" y1="50.3" x2="411.9" y2="50.3" stroke="#000" stroke-width="0.7"/>
<line x1="407.3" y1="47.3" x2="407.3" y2="53.9" stroke="#000" stroke-width="0.7"/>
<path d="M516.4 54.4 L516.4 47.5 Q516.4 46 517.9 46 L529.9 46 Q531.4 46 531.4 47.5 L531.4 54.4" fill="none" stroke="#000" stroke-width="1"/>
<circle cx="523.7" cy="50.3" r="1.4" fill="#777" stroke="#000" stroke-width="0.8"/>
<line x1="519.1" y1="50.3" x2="528.3" y2="50.3" stroke="#000" stroke-width="0.7"/>
<line x1="523.7" y1="47.3" x2="523.7" y2="53.9" stroke="#000" stroke-width="0.7"/>
<path d="M400 287.5 L400 293.9 Q400 295.4 401.5 295.4 L413.2 295.4 Q414.7 295.4 414.7 293.9 L414.7 287.5" fill="none" stroke="#000" stroke-width="1"/>
<line x1="405.8" y1="288.5" x2="405.8" y2="295.4" stroke="#000" stroke-width="0.7"/>
<line x1="408.8" y1="288.5" x2="408.8" y2="295.4" stroke="#000" stroke-width="0.7"/>
<line x1="403.3" y1="291.8" x2="411.3" y2="291.8" stroke="#000" stroke-width="0.6"/>
<path d="M407.3 288 L408.4 291.5 L406.2 291.5 Z" fill="#000"/>
<path d="M516.4 287.5 L516.4 293.9 Q516.4 295.4 517.9 295.4 L529.9 295.4 Q531.4 295.4 531.4 293.9 L531.4 287.5" fill="none" stroke="#000" stroke-width="1"/>
<line x1="522.4" y1="288.5" x2="522.4" y2="295.4" stroke="#000" stroke-width="0.7"/>
<line x1="525.4" y1="288.5" x2="525.4" y2="295.4" stroke="#000" stroke-width="0.7"/>
<line x1="519.9" y1="291.8" x2="527.9" y2="291.8" stroke="#000" stroke-width="0.6"/>
<path d="M523.9 288 L525 291.5 L522.8 291.5 Z" fill="#000"/>
<line x1="463.2" y1="48" x2="463.2" y2="92.4" stroke="#000" stroke-width="0.7"/>
<line x1="463.2" y1="101" x2="463.2" y2="114" stroke="#000" stroke-width="0.7"/>
<line x1="463.2" y1="119.5" x2="463.2" y2="210" stroke="#000" stroke-width="0.7"/>
<line x1="463.2" y1="221" x2="463.2" y2="234" stroke="#000" stroke-width="0.7"/>
<line x1="463.2" y1="242.4" x2="463.2" y2="289.7" stroke="#000" stroke-width="0.7"/>
<path d="M463.8 35.4 Q463.2 34.2 461.8 34.2 Q458.9 34.2 458.9 37.8 Q458.9 41.2 461.8 41.2 Q463.2 41.2 463.8 40" fill="none" stroke="#000" stroke-width="0.8"/>
<path d="M462 33 L462 43 L466.2 43" fill="none" stroke="#000" stroke-width="0.8"/>
<line x1="429.7" y1="62.5" x2="429.7" y2="161.4" stroke="#000" stroke-width="1"/>
<line x1="429.7" y1="179.2" x2="429.7" y2="279.3" stroke="#000" stroke-width="1"/>
<path d="M429.7 62.8 L431 69.1 L428.4 69.1 Z" fill="#000"/>
<path d="M429.7 279 L428.4 272.7 L431 272.7 Z" fill="#000"/>
<text x="425.8" y="175.8" font-family="'Liberation Sans', monospace" font-size="13.4" letter-spacing="0.000" fill="#111" stroke="#fff" stroke-width="0.22" xml:space="preserve">D</text>
<text transform="translate(0 26.6) scale(1 1)" x="394.4 406.1 411.95" y="0" font-family="'Liberation Sans', sans-serif" font-size="9.1" fill="#111" stroke="#000" stroke-width="0.12">150</text>
<text transform="translate(0 26.6) scale(0.86 1)" x="467.07" y="0" font-family="'Liberation Sans', sans-serif" font-size="9.1" fill="#111" stroke="#000" stroke-width="0.12">.</text>
<text transform="translate(0 36.3) scale(1 1)" x="391.5 397.18" y="0" font-family="'Liberation Sans', sans-serif" font-size="9.1" fill="#111" stroke="#000" stroke-width="0.12">38</text>
<text transform="translate(0 36.3) scale(0.8 1)" x="510.05 517.15" y="0" font-family="'Liberation Sans', sans-serif" font-size="9.1" fill="#111" stroke="#000" stroke-width="0.24">mm</text>
<path d="M422 28.1 L430 28.1 L430 54.4" fill="none" stroke="#000" stroke-width="1"/>
<path d="M430 54.4 L428.7 48.1 L431.3 48.1 Z" fill="#000"/>
<path d="M429.7 287.5 L429.7 304.7 L440 304.7" fill="none" stroke="#000" stroke-width="1"/>
<path d="M429.7 287.7 L431 294 L428.4 294 Z" fill="#000"/>
<text transform="translate(0 304) scale(1 1)" x="443 454.43 460.15" y="0" font-family="'Liberation Sans', sans-serif" font-size="9.1" fill="#111" stroke="#000" stroke-width="0.12">150</text>
<text transform="translate(0 304) scale(0.86 1)" x="523.43" y="0" font-family="'Liberation Sans', sans-serif" font-size="9.1" fill="#111" stroke="#000" stroke-width="0.12">.</text>
<text transform="translate(0 313) scale(1 1)" x="439.8 445.56" y="0" font-family="'Liberation Sans', sans-serif" font-size="9.1" fill="#111" stroke="#000" stroke-width="0.12">38</text>
<text transform="translate(0 313) scale(0.8 1)" x="570.7 577.9" y="0" font-family="'Liberation Sans', sans-serif" font-size="9.1" fill="#111" stroke="#000" stroke-width="0.24">mm</text>
<line x1="397.5" y1="240.3" x2="488" y2="240.3" stroke="#000" stroke-width="1"/>
<line x1="506.3" y1="240.3" x2="528.8" y2="240.3" stroke="#000" stroke-width="1"/>
<path d="M397.8 240.3 L404.1 239 L404.1 241.6 Z" fill="#000"/>
<path d="M528.5 240.3 L522.2 241.6 L522.2 239 Z" fill="#000"/>
<text x="493.9" y="245.4" font-family="'Liberation Sans', monospace" font-size="13.4" letter-spacing="0.000" fill="#111" stroke="#fff" stroke-width="0.22" xml:space="preserve">E</text>
<line x1="380.2" y1="240.3" x2="387.6" y2="240.3" stroke="#000" stroke-width="1"/>
<path d="M387.6 240.3 L381.3 241.6 L381.3 239 Z" fill="#000"/>
<text transform="translate(0 238.6) scale(1 1)" x="352.5 363.87 369.55" y="0" font-family="'Liberation Sans', sans-serif" font-size="9.1" fill="#111" stroke="#000" stroke-width="0.12">175</text>
<text transform="translate(0 238.6) scale(0.86 1)" x="418.15" y="0" font-family="'Liberation Sans', sans-serif" font-size="9.1" fill="#111" stroke="#000" stroke-width="0.12">.</text>
<text transform="translate(0 248) scale(1 1)" x="349.5 355.23" y="0" font-family="'Liberation Sans', sans-serif" font-size="9.1" fill="#111" stroke="#000" stroke-width="0.12">44</text>
<text transform="translate(0 248) scale(0.8 1)" x="457.73 464.9" y="0" font-family="'Liberation Sans', sans-serif" font-size="9.1" fill="#111" stroke="#000" stroke-width="0.24">mm</text>
<line x1="543.2" y1="240.2" x2="555" y2="240.2" stroke="#000" stroke-width="1"/>
<path d="M543.2 240.2 L549.5 238.9 L549.5 241.5 Z" fill="#000"/>
<text transform="translate(0 238.8) scale(1 1)" x="560.3 571.6 577.25" y="0" font-family="'Liberation Sans', sans-serif" font-size="9.1" fill="#111" stroke="#000" stroke-width="0.12">262</text>
<text transform="translate(0 238.8) scale(0.86 1)" x="659.74" y="0" font-family="'Liberation Sans', sans-serif" font-size="9.1" fill="#111" stroke="#000" stroke-width="0.12">.</text>
<text transform="translate(0 248) scale(1 1)" x="556.8 562.71" y="0" font-family="'Liberation Sans', sans-serif" font-size="9.1" fill="#111" stroke="#000" stroke-width="0.12">67</text>
<text transform="translate(0 248) scale(0.8 1)" x="717.52 724.9" y="0" font-family="'Liberation Sans', sans-serif" font-size="9.1" fill="#111" stroke="#000" stroke-width="0.24">mm</text>
<text transform="translate(0 39.2) scale(0.86 1)" x="425.58" y="0" font-family="'Liberation Sans', sans-serif" font-size="9.1" fill="#111" stroke="#000" stroke-width="0.12">.</text>
<text transform="translate(0 39.2) scale(1 1)" x="370.16 375.75" y="0" font-family="'Liberation Sans', sans-serif" font-size="9.1" fill="#111" stroke="#000" stroke-width="0.12">88</text>
<text transform="translate(0 49) scale(1 1)" x="358 363.71" y="0" font-family="'Liberation Sans', sans-serif" font-size="9.1" fill="#111" stroke="#000" stroke-width="0.12">22</text>
<text transform="translate(0 49) scale(0.8 1)" x="468.27 475.4" y="0" font-family="'Liberation Sans', sans-serif" font-size="9.1" fill="#111" stroke="#000" stroke-width="0.24">mm</text>
<line x1="367" y1="62.5" x2="392.4" y2="62.5" stroke="#000" stroke-width="1"/>
<line x1="367" y1="67.3" x2="392.4" y2="67.3" stroke="#000" stroke-width="1"/>
<line x1="372" y1="51.5" x2="372" y2="62.5" stroke="#000" stroke-width="1"/>
<path d="M372 62.5 L370.7 56.2 L373.3 56.2 Z" fill="#000"/>
<line x1="372" y1="67.3" x2="372" y2="77" stroke="#000" stroke-width="1"/>
<path d="M372 67.3 L373.3 73.6 L370.7 73.6 Z" fill="#000"/>
<text transform="translate(0 88.8) scale(0.86 1)" x="416.28" y="0" font-family="'Liberation Sans', sans-serif" font-size="9.1" fill="#111" stroke="#000" stroke-width="0.12">.</text>
<text transform="translate(0 88.8) scale(1 1)" x="362.26 367.95" y="0" font-family="'Liberation Sans', sans-serif" font-size="9.1" fill="#111" stroke="#000" stroke-width="0.12">88</text>
<text transform="translate(0 98.5) scale(1 1)" x="351 356.78" y="0" font-family="'Liberation Sans', sans-serif" font-size="9.1" fill="#111" stroke="#000" stroke-width="0.12">22</text>
<text transform="translate(0 98.5) scale(0.8 1)" x="459.8 467.03" y="0" font-family="'Liberation Sans', sans-serif" font-size="9.1" fill="#111" stroke="#000" stroke-width="0.24">mm</text>
<line x1="381.4" y1="90.5" x2="397.5" y2="90.5" stroke="#000" stroke-width="1"/>
<path d="M397.5 90.5 L391.2 91.8 L391.2 89.2 Z" fill="#000"/>
<line x1="402.9" y1="77.8" x2="402.9" y2="94.7" stroke="#000" stroke-width="1"/>
<line x1="402.9" y1="90.5" x2="412.4" y2="90.5" stroke="#000" stroke-width="1"/>
<path d="M402.9 90.5 L409.2 89.2 L409.2 91.8 Z" fill="#000"/>
<text transform="translate(0 27) scale(0.8 1)" x="610 661.08 690.54 697.84 741.63 748.92" y="0" font-family="'Liberation Sans', sans-serif" font-size="9.1" fill="#111" stroke="#000" stroke-width="0.24">OODDUD</text>
<text transform="translate(0 27) scale(0.74 1)" x="667.39 706.33 730.5" y="0" font-family="'Liberation Sans', sans-serif" font-size="9.1" fill="#111" stroke="#000" stroke-width="0.24">MWM</text>
<text transform="translate(0 27) scale(0.86 1)" x="583.05 588.33 601.91 637.35 656.47 662.75 676.33 683.37 703.48" y="0" font-family="'Liberation Sans', sans-serif" font-size="9.1" fill="#111" stroke="#000" stroke-width="0.12">ITTILESTS</text>
<text transform="translate(0 35.8) scale(0.86 1)" x="569.53 574.82 588.14 595.29 602.21 608.5 615.28 622.07 635.89 684.89" y="0" font-family="'Liberation Sans', sans-serif" font-size="9.1" fill="#111" stroke="#000" stroke-width="0.12">IFB=LESST.</text>
<text transform="translate(0 35.8) scale(0.8 1)" x="690.59 698.11 705.17" y="0" font-family="'Liberation Sans', sans-serif" font-size="9.1" fill="#111" stroke="#000" stroke-width="0.24">HAN</text>
<text transform="translate(0 35.8) scale(1 1)" x="575.91 581.74 593.41 599.25" y="0" font-family="'Liberation Sans', sans-serif" font-size="9.1" fill="#111" stroke="#000" stroke-width="0.12">3200</text>
<text transform="translate(0 44.4) scale(1 1)" x="581.4 587.52 593.65" y="0" font-family="'Liberation Sans', sans-serif" font-size="9.1" fill="#111" stroke="#000" stroke-width="0.12">813</text>
<line x1="486.5" y1="23.9" x2="478.8" y2="23.9" stroke="#000" stroke-width="1"/>
<line x1="478.8" y1="23.9" x2="464.5" y2="64.8" stroke="#000" stroke-width="1"/>
<path d="M464.5 64.8 L465.35 58.42 L467.81 59.28 Z" fill="#000"/>
<text transform="translate(0 76.4) scale(0.86 1)" x="650.81 671.16 678.44" y="0" font-family="'Liberation Sans', sans-serif" font-size="9.1" fill="#111" stroke="#000" stroke-width="0.12">PEL</text>
<text transform="translate(0 76.4) scale(0.8 1)" x="707.12 714.18" y="0" font-family="'Liberation Sans', sans-serif" font-size="9.1" fill="#111" stroke="#000" stroke-width="0.24">AN</text>
<text transform="translate(0 85) scale(0.86 1)" x="651.4 663.44 677.5 684.15" y="0" font-family="'Liberation Sans', sans-serif" font-size="9.1" fill="#111" stroke="#000" stroke-width="0.12">(RER</text>
<text transform="translate(0 85) scale(0.8 1)" x="705.76 720.87" y="0" font-family="'Liberation Sans', sans-serif" font-size="9.1" fill="#111" stroke="#000" stroke-width="0.24">OD</text>
<text transform="translate(0 93.8) scale(0.86 1)" x="650.81 657.65 664.49 677.91 692.08 698.66 706 712.34 720.67" y="0" font-family="'Liberation Sans', sans-serif" font-size="9.1" fill="#111" stroke="#000" stroke-width="0.12">SEPRTELY)</text>
<text transform="translate(0 93.8) scale(0.8 1)" x="721.87 736.57" y="0" font-family="'Liberation Sans', sans-serif" font-size="9.1" fill="#111" stroke="#000" stroke-width="0.24">AA</text>
<line x1="558" y1="73.6" x2="549" y2="73.6" stroke="#000" stroke-width="1"/>
<line x1="549" y1="73.6" x2="529.6" y2="92.5" stroke="#000" stroke-width="1"/>
<path d="M529.6 92.5 L533.21 87.17 L535.02 89.03 Z" fill="#000"/>
<text transform="translate(0 149.2) scale(0.8 1)" x="701.75 752.35 781.54 788.76" y="0" font-family="'Liberation Sans', sans-serif" font-size="9.1" fill="#111" stroke="#000" stroke-width="0.24">OODD</text>
<text transform="translate(0 149.2) scale(0.74 1)" x="766.5 805.07 829.02" y="0" font-family="'Liberation Sans', sans-serif" font-size="9.1" fill="#111" stroke="#000" stroke-width="0.24">MWM</text>
<text transform="translate(0 149.2) scale(0.86 1)" x="668.27 673.49 686.94 722.06 740.98 747.2" y="0" font-family="'Liberation Sans', sans-serif" font-size="9.1" fill="#111" stroke="#000" stroke-width="0.12">ITTILE</text>
<text transform="translate(0 157.6) scale(0.86 1)" x="652.79 659.78 679.77 695.01 700.25 720.59 727.47 733.72 740.46 747.2" y="0" font-family="'Liberation Sans', sans-serif" font-size="9.1" fill="#111" stroke="#000" stroke-width="0.12">STSIF=LESS</text>
<text transform="translate(0 157.6) scale(0.8 1)" x="716.23 723.48 767.2" y="0" font-family="'Liberation Sans', sans-serif" font-size="9.1" fill="#111" stroke="#000" stroke-width="0.24">UDA</text>
<text transform="translate(0 166.6) scale(0.86 1)" x="652.79 701.67" y="0" font-family="'Liberation Sans', sans-serif" font-size="9.1" fill="#111" stroke="#000" stroke-width="0.12">T.</text>
<text transform="translate(0 166.6) scale(0.8 1)" x="708.73 716.24 723.29" y="0" font-family="'Liberation Sans', sans-serif" font-size="9.1" fill="#111" stroke="#000" stroke-width="0.24">HAN</text>
<text transform="translate(0 166.6) scale(1 1)" x="590.37 596.19 607.83 613.65" y="0" font-family="'Liberation Sans', sans-serif" font-size="9.1" fill="#111" stroke="#000" stroke-width="0.12">3100</text>
<text transform="translate(0 175.4) scale(1 1)" x="597.5 602.72 607.95" y="0" font-family="'Liberation Sans', sans-serif" font-size="9.1" fill="#111" stroke="#000" stroke-width="0.12">787</text>
<line x1="559.5" y1="146.4" x2="552" y2="146.4" stroke="#000" stroke-width="1"/>
<line x1="552" y1="146.4" x2="524.8" y2="169.2" stroke="#000" stroke-width="1"/>
<path d="M524.8 169.2 L528.79 164.16 L530.46 166.15 Z" fill="#000"/>
<text transform="translate(0 309.8) scale(0.74 1)" x="717.57" y="0" font-family="'Liberation Sans', sans-serif" font-size="9.1" fill="#111" stroke="#000" stroke-width="0.24">M</text>
<text transform="translate(0 309.8) scale(0.8 1)" x="670.98 678.52 685.78 707.58 714.57 744.13 751.16" y="0" font-family="'Liberation Sans', sans-serif" font-size="9.1" fill="#111" stroke="#000" stroke-width="0.24">OUNNGAC</text>
<text transform="translate(0 309.8) scale(0.86 1)" x="644.97 653.23 678.5 685.01 705.54 712.29 719.3 725.81" y="0" font-family="'Liberation Sans', sans-serif" font-size="9.1" fill="#111" stroke="#000" stroke-width="0.12">TIBRKETS</text>
<line x1="529.5" y1="307.3" x2="522" y2="307.3" stroke="#000" stroke-width="1"/>
<line x1="522" y1="307.3" x2="525.4" y2="296.3" stroke="#000" stroke-width="1"/>
<path d="M525.4 296.3 L524.78 302.7 L522.3 301.94 Z" fill="#000"/>
<text transform="translate(0 329.9) scale(0.86 1)" x="477.56 489.07 512.52 526.57 569.67 592.7" y="0" font-family="'Liberation Sans', sans-serif" font-size="15.36" fill="#111" stroke="#fff" stroke-width="0.3">SETIYY</text>
<text transform="translate(0 329.9) scale(0.8 1)" x="538.09 574.76 587.6" y="0" font-family="'Liberation Sans', sans-serif" font-size="15.36" fill="#111" stroke="#fff" stroke-width="0.3">CON</text>
<text transform="translate(0 329.9) scale(1.45 1)" x="345.16" y="0" font-family="'Liberation Sans', sans-serif" font-size="15.36" fill="#111" stroke="#fff" stroke-width="0.3">-</text>
<text transform="translate(0 335.5) scale(0.86 1)" x="27.56" y="0" font-family="'Liberation Sans', sans-serif" font-size="9.1" fill="#111" stroke="#000" stroke-width="0.12">.</text>
<text transform="translate(0 335.5) scale(1 1)" x="28.11 33.95" y="0" font-family="'Liberation Sans', sans-serif" font-size="9.1" fill="#111" stroke="#000" stroke-width="0.12">94</text>
<text transform="translate(0 344.8) scale(1 1)" x="17 22.81" y="0" font-family="'Liberation Sans', sans-serif" font-size="9.1" fill="#111" stroke="#000" stroke-width="0.12">24</text>
<text transform="translate(0 344.8) scale(0.8 1)" x="42.39 49.65" y="0" font-family="'Liberation Sans', sans-serif" font-size="9.1" fill="#111" stroke="#000" stroke-width="0.24">mm</text>
<line x1="48.3" y1="337" x2="60.5" y2="337" stroke="#000" stroke-width="1"/>
<path d="M60.5 337 L54.2 338.3 L54.2 335.7 Z" fill="#000"/>
<line x1="60.5" y1="331.9" x2="60.5" y2="376.8" stroke="#000" stroke-width="1"/>
<line x1="75.9" y1="331.9" x2="75.9" y2="356.4" stroke="#000" stroke-width="1"/>
<line x1="98.5" y1="331.9" x2="98.5" y2="358" stroke="#000" stroke-width="1"/>
<line x1="75.9" y1="337" x2="103" y2="337" stroke="#000" stroke-width="1"/>
<path d="M75.9 337 L82.2 335.7 L82.2 338.3 Z" fill="#000"/>
<path d="M98.5 337 L92.2 338.3 L92.2 335.7 Z" fill="#000"/>
<text transform="translate(0 335.5) scale(1 1)" x="109.3 120.07 125.45" y="0" font-family="'Liberation Sans', sans-serif" font-size="9.1" fill="#111" stroke="#000" stroke-width="0.12">131</text>
<text transform="translate(0 335.5) scale(0.86 1)" x="135.01" y="0" font-family="'Liberation Sans', sans-serif" font-size="9.1" fill="#111" stroke="#000" stroke-width="0.12">.</text>
<text transform="translate(0 344.8) scale(1 1)" x="106 111.78" y="0" font-family="'Liberation Sans', sans-serif" font-size="9.1" fill="#111" stroke="#000" stroke-width="0.12">33</text>
<text transform="translate(0 344.8) scale(0.8 1)" x="153.55 160.78" y="0" font-family="'Liberation Sans', sans-serif" font-size="9.1" fill="#111" stroke="#000" stroke-width="0.24">mm</text>
<text transform="translate(0 370.3) scale(1 1)" x="8.5 20 25.75" y="0" font-family="'Liberation Sans', sans-serif" font-size="9.1" fill="#111" stroke="#000" stroke-width="0.12">116</text>
<text transform="translate(0 370.3) scale(0.86 1)" x="18.23" y="0" font-family="'Liberation Sans', sans-serif" font-size="9.1" fill="#111" stroke="#000" stroke-width="0.12">.</text>
<text transform="translate(0 380.2) scale(1 1)" x="6 11.61" y="0" font-family="'Liberation Sans', sans-serif" font-size="9.1" fill="#111" stroke="#000" stroke-width="0.12">29</text>
<text transform="translate(0 380.2) scale(0.8 1)" x="27.89 34.9" y="0" font-family="'Liberation Sans', sans-serif" font-size="9.1" fill="#111" stroke="#000" stroke-width="0.24">mm</text>
<line x1="15.3" y1="362.2" x2="71.2" y2="362.2" stroke="#000" stroke-width="1"/>
<line x1="15.3" y1="381.9" x2="56" y2="381.9" stroke="#000" stroke-width="1"/>
<line x1="19.5" y1="353" x2="19.5" y2="362.2" stroke="#000" stroke-width="1"/>
<path d="M19.5 362.2 L18.2 355.9 L20.8 355.9 Z" fill="#000"/>
<line x1="19.5" y1="381.9" x2="19.5" y2="437.6" stroke="#000" stroke-width="1"/>
<line x1="19.5" y1="457.6" x2="19.5" y2="515" stroke="#000" stroke-width="1"/>
<path d="M19.5 382.1 L20.8 388.4 L18.2 388.4 Z" fill="#000"/>
<path d="M19.5 515 L18.2 508.7 L20.8 508.7 Z" fill="#000"/>
<line x1="14.9" y1="515.2" x2="56" y2="515.2" stroke="#000" stroke-width="1"/>
<text x="15.3" y="453.8" font-family="'Liberation Sans', monospace" font-size="13.4" letter-spacing="0.000" fill="#111" stroke="#fff" stroke-width="0.22" xml:space="preserve">C</text>
<text transform="translate(0 400.5) scale(1 1)" x="28.8 40.1 45.75" y="0" font-family="'Liberation Sans', sans-serif" font-size="9.1" fill="#111" stroke="#000" stroke-width="0.12">138</text>
<text transform="translate(0 400.5) scale(0.86 1)" x="41.72" y="0" font-family="'Liberation Sans', sans-serif" font-size="9.1" fill="#111" stroke="#000" stroke-width="0.12">.</text>
<text transform="translate(0 410.2) scale(1 1)" x="25.4 31.21" y="0" font-family="'Liberation Sans', sans-serif" font-size="9.1" fill="#111" stroke="#000" stroke-width="0.12">35</text>
<text transform="translate(0 410.2) scale(0.8 1)" x="52.89 60.15" y="0" font-family="'Liberation Sans', sans-serif" font-size="9.1" fill="#111" stroke="#000" stroke-width="0.24">mm</text>
<line x1="56.2" y1="402" x2="84.2" y2="402" stroke="#000" stroke-width="1"/>
<path d="M61 402 L67.3 400.7 L67.3 403.3 Z" fill="#000"/>
<path d="M84.2 402 L77.9 403.3 L77.9 400.7 Z" fill="#000"/>
<line x1="84.2" y1="388" x2="84.2" y2="403.8" stroke="#000" stroke-width="1"/>
<text transform="translate(0 354.4) scale(1 1)" x="140.2 145.82" y="0" font-family="'Liberation Sans', sans-serif" font-size="9.1" fill="#111" stroke="#000" stroke-width="0.12">14</text>
<text transform="translate(0 354.4) scale(0.8 1)" x="195.95 203.48 210.28 217.04" y="0" font-family="'Liberation Sans', sans-serif" font-size="9.1" fill="#111" stroke="#000" stroke-width="0.24">GAUG</text>
<text transform="translate(0 354.4) scale(0.86 1)" x="208.72" y="0" font-family="'Liberation Sans', sans-serif" font-size="9.1" fill="#111" stroke="#000" stroke-width="0.12">E</text>
<path d="M137.3 351.7 L129.7 351.7 L129.7 362.2" fill="none" stroke="#000" stroke-width="1"/>
<path d="M129.7 362.3 L128.4 356 L131 356 Z" fill="#000"/>
<line x1="129.7" y1="364.8" x2="129.7" y2="373.4" stroke="#000" stroke-width="1"/>
<path d="M129.7 364.8 L131 371.1 L128.4 371.1 Z" fill="#000"/>
<path d="M204.3 344 Q203.7 342.8 202.3 342.8 Q199.4 342.8 199.4 346.4 Q199.4 349.8 202.3 349.8 Q203.7 349.8 204.3 348.6" fill="none" stroke="#000" stroke-width="0.8"/>
<path d="M202.5 341.6 L202.5 351.6 L206.7 351.6" fill="none" stroke="#000" stroke-width="0.8"/>
<line x1="202.5" y1="355.6" x2="202.5" y2="426.3" stroke="#000" stroke-width="0.7"/>
<line x1="202.5" y1="433.9" x2="202.5" y2="445.8" stroke="#000" stroke-width="0.7"/>
<line x1="202.5" y1="452.5" x2="202.5" y2="524.7" stroke="#000" stroke-width="0.7"/>
<text transform="translate(0 402.5) scale(0.86 1)" x="130.47 165.69 184.18 191.42 211.16" y="0" font-family="'Liberation Sans', sans-serif" font-size="9.1" fill="#111" stroke="#000" stroke-width="0.12">FIPLE</text>
<text transform="translate(0 402.5) scale(0.8 1)" x="146.94 154.69 183.46 212.7 219.72" y="0" font-family="'Liberation Sans', sans-serif" font-size="9.1" fill="#111" stroke="#000" stroke-width="0.24">OANAC</text>
<text transform="translate(0 402.5) scale(0.74 1)" x="174.57" y="0" font-family="'Liberation Sans', sans-serif" font-size="9.1" fill="#111" stroke="#000" stroke-width="0.24">M</text>
<text transform="translate(0 402.5) scale(1.45 1)" x="93.5 105.51" y="0" font-family="'Liberation Sans', sans-serif" font-size="9.1" fill="#111" stroke="#000" stroke-width="0.12">--</text>
<text transform="translate(0 411.5) scale(0.8 1)" x="140.25 147.84" y="0" font-family="'Liberation Sans', sans-serif" font-size="9.1" fill="#111" stroke="#000" stroke-width="0.24">GA</text>
<text transform="translate(0 411.5) scale(0.86 1)" x="143.94 150.54 157.14 163.98" y="0" font-family="'Liberation Sans', sans-serif" font-size="9.1" fill="#111" stroke="#000" stroke-width="0.12">SKET</text>
<text transform="translate(0 431.4) scale(0.8 1)" x="121.62 128.52 135.95 157.45 164.61 171.51 178.94 200.44 214.77 221.66" y="0" font-family="'Liberation Sans', sans-serif" font-size="9.1" fill="#111" stroke="#000" stroke-width="0.24">CONNUOUHNG</text>
<text transform="translate(0 431.4) scale(0.86 1)" x="133.41 141.57 173.15 194.89 213.13" y="0" font-family="'Liberation Sans', sans-serif" font-size="9.1" fill="#111" stroke="#000" stroke-width="0.12">TISIE</text>
<text transform="translate(0 451.4) scale(1 1)" x="134.6 146.34 158.08 163.95" y="0" font-family="'Liberation Sans', sans-serif" font-size="9.1" fill="#111" stroke="#000" stroke-width="0.12">3816</text>
<text transform="translate(0 451.4) scale(0.86 1)" x="165" y="0" font-family="'Liberation Sans', sans-serif" font-size="9.1" fill="#111" stroke="#000" stroke-width="0.12">/</text>
<text transform="translate(0 451.4) scale(1.45 1)" x="105.19" y="0" font-family="'Liberation Sans', sans-serif" font-size="9.1" fill="#111" stroke="#000" stroke-width="0.12">-</text>
<text transform="translate(0 460.7) scale(0.8 1)" x="168.25 175.22 197.44" y="0" font-family="'Liberation Sans', sans-serif" font-size="9.1" fill="#111" stroke="#000" stroke-width="0.24">COA</text>
<text transform="translate(0 460.7) scale(0.86 1)" x="170.5 177.24 189.96" y="0" font-family="'Liberation Sans', sans-serif" font-size="9.1" fill="#111" stroke="#000" stroke-width="0.12">LLR</text>
<text transform="translate(0 469.5) scale(0.86 1)" x="156.51 163.46" y="0" font-family="'Liberation Sans', sans-serif" font-size="9.1" fill="#111" stroke="#000" stroke-width="0.12">ST</text>
<text transform="translate(0 469.5) scale(0.8 1)" x="182.62 189.82" y="0" font-family="'Liberation Sans', sans-serif" font-size="9.1" fill="#111" stroke="#000" stroke-width="0.24">UD</text>
<text transform="translate(0 473.2) scale(0.86 1)" x="83.72" y="0" font-family="'Liberation Sans', sans-serif" font-size="9.1" fill="#111" stroke="#000" stroke-width="0.12">.</text>
<text transform="translate(0 473.2) scale(1 1)" x="75.96 81.35" y="0" font-family="'Liberation Sans', sans-serif" font-size="9.1" fill="#111" stroke="#000" stroke-width="0.12">94</text>
<text transform="translate(0 483) scale(1 1)" x="64.4 70.13" y="0" font-family="'Liberation Sans', sans-serif" font-size="9.1" fill="#111" stroke="#000" stroke-width="0.12">24</text>
<text transform="translate(0 483) scale(0.8 1)" x="101.36 108.53" y="0" font-family="'Liberation Sans', sans-serif" font-size="9.1" fill="#111" stroke="#000" stroke-width="0.24">mm</text>
<text transform="translate(0 486.8) scale(1 1)" x="152.9 158.54" y="0" font-family="'Liberation Sans', sans-serif" font-size="9.1" fill="#111" stroke="#000" stroke-width="0.12">12</text>
<text transform="translate(0 486.8) scale(0.8 1)" x="211.88 219.43 226.25 233.02" y="0" font-family="'Liberation Sans', sans-serif" font-size="9.1" fill="#111" stroke="#000" stroke-width="0.24">GAUG</text>
<text transform="translate(0 486.8) scale(0.86 1)" x="223.6" y="0" font-family="'Liberation Sans', sans-serif" font-size="9.1" fill="#111" stroke="#000" stroke-width="0.12">E</text>
<text transform="translate(0 526.4) scale(0.86 1)" x="19.77" y="0" font-family="'Liberation Sans', sans-serif" font-size="9.1" fill="#111" stroke="#000" stroke-width="0.12">.</text>
<text transform="translate(0 526.4) scale(1 1)" x="20.96 26.35" y="0" font-family="'Liberation Sans', sans-serif" font-size="9.1" fill="#111" stroke="#000" stroke-width="0.12">19</text>
<text transform="translate(0 536.2) scale(1 1)" x="12.2" y="0" font-family="'Liberation Sans', sans-serif" font-size="9.1" fill="#111" stroke="#000" stroke-width="0.12">5</text>
<text transform="translate(0 536.2) scale(0.8 1)" x="29.47 36.9" y="0" font-family="'Liberation Sans', sans-serif" font-size="9.1" fill="#111" stroke="#000" stroke-width="0.24">mm</text>
<text transform="translate(0 545.9) scale(1 1)" x="11 16.72" y="0" font-family="'Liberation Sans', sans-serif" font-size="9.1" fill="#111" stroke="#000" stroke-width="0.12">10</text>
<text transform="translate(0 545.9) scale(0.8 1)" x="34.8 42.45 70.53" y="0" font-family="'Liberation Sans', sans-serif" font-size="9.1" fill="#111" stroke="#000" stroke-width="0.24">GAO</text>
<text transform="translate(0 545.9) scale(0.86 1)" x="47.69 59.49 72.29" y="0" font-family="'Liberation Sans', sans-serif" font-size="9.1" fill="#111" stroke="#000" stroke-width="0.12">.FR</text>
<text transform="translate(0 554.7) scale(0.86 1)" x="12.21 19.21 34.23 46.48 52.74 59.49 66.25 79.76 86.76 93.27 100.02 107.28" y="0" font-family="'Liberation Sans', sans-serif" font-size="9.1" fill="#111" stroke="#000" stroke-width="0.12">STILESSSTEEL</text>
<text transform="translate(0 554.7) scale(0.8 1)" x="27.85 42.15" y="0" font-family="'Liberation Sans', sans-serif" font-size="9.1" fill="#111" stroke="#000" stroke-width="0.24">AN</text>
<text transform="translate(0 552) scale(0.86 1)" x="177.79 189.03 211.92 225.69 267.67 290.14" y="0" font-family="'Liberation Sans', sans-serif" font-size="15.36" fill="#111" stroke="#fff" stroke-width="0.3">SETIXX</text>
<text transform="translate(0 552) scale(0.8 1)" x="215.24 251.01 263.55" y="0" font-family="'Liberation Sans', sans-serif" font-size="15.36" fill="#111" stroke="#fff" stroke-width="0.3">CON</text>
<text transform="translate(0 552) scale(1.45 1)" x="165.87" y="0" font-family="'Liberation Sans', sans-serif" font-size="15.36" fill="#111" stroke="#fff" stroke-width="0.3">-</text>
<text transform="translate(0 329.7) scale(1 1)" x="248.6 259.97 265.65" y="0" font-family="'Liberation Sans', sans-serif" font-size="9.1" fill="#111" stroke="#000" stroke-width="0.12">125</text>
<text transform="translate(0 329.7) scale(0.86 1)" x="297.34" y="0" font-family="'Liberation Sans', sans-serif" font-size="9.1" fill="#111" stroke="#000" stroke-width="0.12">.</text>
<text transform="translate(0 339) scale(1 1)" x="245.3 251.08" y="0" font-family="'Liberation Sans', sans-serif" font-size="9.1" fill="#111" stroke="#000" stroke-width="0.12">32</text>
<text transform="translate(0 339) scale(0.8 1)" x="327.67 334.9" y="0" font-family="'Liberation Sans', sans-serif" font-size="9.1" fill="#111" stroke="#000" stroke-width="0.24">mm</text>
<text transform="translate(0 348.4) scale(0.86 1)" x="280.23 286 292.76 299.78" y="0" font-family="'Liberation Sans', sans-serif" font-size="9.1" fill="#111" stroke="#000" stroke-width="0.12">(TYP</text>
<text transform="translate(0 348.4) scale(1 1)" x="269.95" y="0" font-family="'Liberation Sans', sans-serif" font-size="9.1" fill="#111" stroke="#000" stroke-width="0.12">3</text>
<text transform="translate(0 357.2) scale(0.86 1)" x="286.05 294.8 307.04 314.03 322.53" y="0" font-family="'Liberation Sans', sans-serif" font-size="9.1" fill="#111" stroke="#000" stroke-width="0.12">SIES)</text>
<text transform="translate(0 357.2) scale(0.8 1)" x="322.52" y="0" font-family="'Liberation Sans', sans-serif" font-size="9.1" fill="#111" stroke="#000" stroke-width="0.24">D</text>
<text transform="translate(0 339.5) scale(1 1)" x="314.4 325.7 331.35" y="0" font-family="'Liberation Sans', sans-serif" font-size="9.1" fill="#111" stroke="#000" stroke-width="0.12">231</text>
<text transform="translate(0 339.5) scale(0.86 1)" x="373.81" y="0" font-family="'Liberation Sans', sans-serif" font-size="9.1" fill="#111" stroke="#000" stroke-width="0.12">.</text>
<text transform="translate(0 349.7) scale(1 1)" x="311.5 317.31" y="0" font-family="'Liberation Sans', sans-serif" font-size="9.1" fill="#111" stroke="#000" stroke-width="0.12">59</text>
<text transform="translate(0 349.7) scale(0.8 1)" x="410.52 417.78" y="0" font-family="'Liberation Sans', sans-serif" font-size="9.1" fill="#111" stroke="#000" stroke-width="0.24">mm</text>
<text transform="translate(0 400.2) scale(1 1)" x="310.7 322.2 327.95" y="0" font-family="'Liberation Sans', sans-serif" font-size="9.1" fill="#111" stroke="#000" stroke-width="0.12">275</text>
<text transform="translate(0 400.2) scale(0.86 1)" x="369.63" y="0" font-family="'Liberation Sans', sans-serif" font-size="9.1" fill="#111" stroke="#000" stroke-width="0.12">.</text>
<text transform="translate(0 409.8) scale(1 1)" x="307.6 313.31" y="0" font-family="'Liberation Sans', sans-serif" font-size="9.1" fill="#111" stroke="#000" stroke-width="0.12">70</text>
<text transform="translate(0 409.8) scale(0.8 1)" x="405.27 412.4" y="0" font-family="'Liberation Sans', sans-serif" font-size="9.1" fill="#111" stroke="#000" stroke-width="0.24">mm</text>
<text transform="translate(0 428.5) scale(0.8 1)" x="266.75" y="0" font-family="'Liberation Sans', sans-serif" font-size="9.1" fill="#111" stroke="#000" stroke-width="0.24">C</text>
<text transform="translate(0 428.5) scale(1.45 1)" x="151.48" y="0" font-family="'Liberation Sans', sans-serif" font-size="9.1" fill="#111" stroke="#000" stroke-width="0.12">-</text>
<text transform="translate(0 428.5) scale(0.86 1)" x="263.49" y="0" font-family="'Liberation Sans', sans-serif" font-size="9.1" fill="#111" stroke="#000" stroke-width="0.12">.</text>
<text transform="translate(0 428.5) scale(1 1)" x="231.01 236.85" y="0" font-family="'Liberation Sans', sans-serif" font-size="9.1" fill="#111" stroke="#000" stroke-width="0.12">25</text>
<text transform="translate(0 438.1) scale(1 1)" x="216.4" y="0" font-family="'Liberation Sans', sans-serif" font-size="9.1" fill="#111" stroke="#000" stroke-width="0.12">6</text>
<text transform="translate(0 438.1) scale(0.8 1)" x="284.3 291.53" y="0" font-family="'Liberation Sans', sans-serif" font-size="9.1" fill="#111" stroke="#000" stroke-width="0.24">mm</text>
<text transform="translate(0 437.3) scale(1 1)" x="281.5 287.07" y="0" font-family="'Liberation Sans', sans-serif" font-size="9.1" fill="#111" stroke="#000" stroke-width="0.12">14</text>
<text transform="translate(0 437.3) scale(0.8 1)" x="372.36 379.82 386.55 393.24" y="0" font-family="'Liberation Sans', sans-serif" font-size="9.1" fill="#111" stroke="#000" stroke-width="0.24">GAUG</text>
<text transform="translate(0 437.3) scale(0.86 1)" x="372.55" y="0" font-family="'Liberation Sans', sans-serif" font-size="9.1" fill="#111" stroke="#000" stroke-width="0.12">E</text>
<text transform="translate(0 467) scale(0.86 1)" x="298.95 319.08 326.3 340.72 352.39 366.06 372.52" y="0" font-family="'Liberation Sans', sans-serif" font-size="9.1" fill="#111" stroke="#000" stroke-width="0.12">PEL(RER</text>
<text transform="translate(0 467) scale(0.8 1)" x="328.79 335.78 371.57 386.27" y="0" font-family="'Liberation Sans', sans-serif" font-size="9.1" fill="#111" stroke="#000" stroke-width="0.24">ANOD</text>
<text transform="translate(0 475.5) scale(0.86 1)" x="298.95 305.75 312.56 325.91 340.01 346.56 353.86 360.16 368.46" y="0" font-family="'Liberation Sans', sans-serif" font-size="9.1" fill="#111" stroke="#000" stroke-width="0.12">SEPRTELY)</text>
<text transform="translate(0 475.5) scale(0.8 1)" x="343.51 358.13" y="0" font-family="'Liberation Sans', sans-serif" font-size="9.1" fill="#111" stroke="#000" stroke-width="0.24">AA</text>
<text transform="translate(0 474.6) scale(0.86 1)" x="413.95" y="0" font-family="'Liberation Sans', sans-serif" font-size="9.1" fill="#111" stroke="#000" stroke-width="0.12">.</text>
<text transform="translate(0 474.6) scale(1 1)" x="360.36 366.15" y="0" font-family="'Liberation Sans', sans-serif" font-size="9.1" fill="#111" stroke="#000" stroke-width="0.12">75</text>
<text transform="translate(0 484.4) scale(1 1)" x="349.3 354.83" y="0" font-family="'Liberation Sans', sans-serif" font-size="9.1" fill="#111" stroke="#000" stroke-width="0.12">19</text>
<text transform="translate(0 484.4) scale(0.8 1)" x="456.73 463.65" y="0" font-family="'Liberation Sans', sans-serif" font-size="9.1" fill="#111" stroke="#000" stroke-width="0.24">mm</text>
<text transform="translate(0 538) scale(0.74 1)" x="390.54" y="0" font-family="'Liberation Sans', sans-serif" font-size="9.1" fill="#111" stroke="#000" stroke-width="0.24">M</text>
<text transform="translate(0 538) scale(0.8 1)" x="368.53 376.11 383.42 405.36 412.4 442.14 449.23" y="0" font-family="'Liberation Sans', sans-serif" font-size="9.1" fill="#111" stroke="#000" stroke-width="0.24">OUNNGAC</text>
<text transform="translate(0 538) scale(0.86 1)" x="363.75 372.05 397.5 404.05 424.71 431.51 438.56 445.11" y="0" font-family="'Liberation Sans', sans-serif" font-size="9.1" fill="#111" stroke="#000" stroke-width="0.12">TIBRKETS</text>
<text transform="translate(0 551.2) scale(1 1)" x="346.1 350.84 360.33 365.07 369.81 374.55 379.3" y="0" font-family="'Liberation Sans', sans-serif" font-size="7.39" fill="#111" stroke="#000" stroke-width="0.12">1159189</text>
<text transform="translate(0 551.2) scale(0.8 1)" x="444.38" y="0" font-family="'Liberation Sans', sans-serif" font-size="7.39" fill="#111" stroke="#000" stroke-width="0.24">C</text>
<line x1="90.7" y1="366.5" x2="293.5" y2="366.5" stroke="#777" stroke-width="0.8"/>
<line x1="90.7" y1="369.4" x2="293.5" y2="369.4" stroke="#777" stroke-width="0.8"/>
<line x1="84" y1="383.5" x2="299.4" y2="383.5" stroke="#000" stroke-width="0.8"/>
<path d="M84.2 382.3 L64.4 382.3 Q61.6 382.3 61.6 385.1 L61.6 511.5 Q61.6 514.3 64.4 514.3 L340.7 514.3 Q343.5 514.3 343.5 511.5 L343.5 385.1 Q343.5 382.3 340.7 382.3 L299.4 382.3" fill="none" stroke="#000" stroke-width="2.5"/>
<path d="M84.2 382.3 L64.4 382.3 Q61.6 382.3 61.6 385.1 L61.6 511.5 Q61.6 514.3 64.4 514.3 L340.7 514.3 Q343.5 514.3 343.5 511.5 L343.5 385.1 Q343.5 382.3 340.7 382.3 L299.4 382.3" fill="none" stroke="#fff" stroke-width="1.35" stroke-dasharray="2.6 1.2"/>
<path d="M83.5 381.3 L83.5 369 Q83.5 366.8 85.5 366.6" fill="none" stroke="#000" stroke-width="2.1"/>
<path d="M83.5 381.3 L83.5 369 Q83.5 366.8 85.5 366.6" fill="none" stroke="#fff" stroke-width="1.05" stroke-dasharray="2.6 1.2"/>
<path d="M300.1 381.3 L300.1 371 Q300.1 368.8 298.2 368.6" fill="none" stroke="#000" stroke-width="2.1"/>
<path d="M300.1 381.3 L300.1 371 Q300.1 368.8 298.2 368.6" fill="none" stroke="#fff" stroke-width="1.05" stroke-dasharray="2.6 1.2"/>
<path d="M69 378.5 L77.3 378.5 L77.3 363.5 L306.6 363.5 L306.6 380.7" fill="none" stroke="#000" stroke-width="2.4" stroke-linejoin="miter"/>
<path d="M69 378.5 L77.3 378.5 L77.3 363.5 L306.6 363.5 L306.6 380.7" fill="none" stroke="#fff" stroke-width="1.25" stroke-dasharray="2.6 1.2" stroke-linejoin="miter"/>
<circle cx="69.6" cy="378.6" r="2.5" fill="#fff" stroke="#000" stroke-width="1"/>
<circle cx="70.8" cy="378.8" r="1.2" fill="#333" stroke="#000" stroke-width="0.6"/>
<path d="M85.2 364.7 L91 364.7 L90.5 370.2 Q87.5 369.8 85.2 364.7 Z" fill="#333" stroke="#000" stroke-width="0.4"/>
<path d="M300.5 364.7 L293.5 364.7 L293.8 369.6 Q297.6 369.4 300.5 364.7 Z" fill="#444" stroke="#000" stroke-width="0.4"/>
<rect x="311.3" y="362.4" width="11.3" height="4.9" rx="0.8" fill="none" stroke="#000" stroke-width="0.8"/>
<line x1="315" y1="362.4" x2="315" y2="367.3" stroke="#000" stroke-width="0.6"/>
<line x1="319" y1="362.4" x2="319" y2="367.3" stroke="#000" stroke-width="0.6"/>
<path d="M308.3 381 L308.3 367.4 L325.8 367.4 L325.8 377" fill="none" stroke="#000" stroke-width="1"/>
<path d="M309.9 381 L309.9 369.4 L324.2 369.4 L324.2 376" fill="none" stroke="#000" stroke-width="0.7"/>
<rect x="311" y="369.6" width="11.4" height="2.4" rx="0" fill="#555" stroke="#000" stroke-width="0.4"/>
<path d="M310.9 381 L310.9 372 L322.5 372 L322.5 381" fill="none" stroke="#000" stroke-width="0.8"/>
<rect x="307" y="378.4" width="3" height="2.4" rx="0.5" fill="#333" stroke="#000" stroke-width="0.3"/>
<path d="M89.5 509.3 Q86.9 509.3 86.9 507.3 L86.9 499.4 Q86.9 497.6 88.9 497.6 L316.8 497.6 Q318.8 497.6 318.8 499.4 L318.8 507.3 Q318.8 509.3 316.2 509.3" fill="none" stroke="#000" stroke-width="2.4"/>
<path d="M89.5 509.3 Q86.9 509.3 86.9 507.3 L86.9 499.4 Q86.9 497.6 88.9 497.6 L316.8 497.6 Q318.8 497.6 318.8 499.4 L318.8 507.3 Q318.8 509.3 316.2 509.3" fill="none" stroke="#fff" stroke-width="1.25" stroke-dasharray="2.6 1.2"/>
<line x1="87" y1="509.5" x2="319" y2="509.5" stroke="#222" stroke-width="1.2"/>
<rect x="100.5" y="499" width="6.2" height="14" rx="0" fill="#fff" stroke="#000" stroke-width="0.9"/>
<path d="M96.8 496.4 L97.3 491 Q97.6 489.4 99.1 489.4 L108.1 489.4 Q109.6 489.4 109.9 491 L110.4 496.4 Z" fill="#fff" stroke="#000" stroke-width="0.9"/>
<line x1="100.2" y1="490.8" x2="107" y2="490.8" stroke="#000" stroke-width="0.6"/>
<line x1="101" y1="489.6" x2="101" y2="494.6" stroke="#000" stroke-width="0.6"/>
<line x1="106.2" y1="489.6" x2="106.2" y2="494.6" stroke="#000" stroke-width="0.6"/>
<rect x="96.5" y="494.6" width="14.2" height="2" rx="0.6" fill="#fff" stroke="#000" stroke-width="0.8"/>
<rect x="199.4" y="499" width="6.2" height="14" rx="0" fill="#fff" stroke="#000" stroke-width="0.9"/>
<path d="M195.7 496.4 L196.2 491 Q196.5 489.4 198 489.4 L207 489.4 Q208.5 489.4 208.8 491 L209.3 496.4 Z" fill="#fff" stroke="#000" stroke-width="0.9"/>
<line x1="199.1" y1="490.8" x2="205.9" y2="490.8" stroke="#000" stroke-width="0.6"/>
<line x1="199.9" y1="489.6" x2="199.9" y2="494.6" stroke="#000" stroke-width="0.6"/>
<line x1="205.1" y1="489.6" x2="205.1" y2="494.6" stroke="#000" stroke-width="0.6"/>
<rect x="195.4" y="494.6" width="14.2" height="2" rx="0.6" fill="#fff" stroke="#000" stroke-width="0.8"/>
<rect x="298.7" y="499" width="6.2" height="14" rx="0" fill="#fff" stroke="#000" stroke-width="0.9"/>
<path d="M295 496.4 L295.5 491 Q295.8 489.4 297.3 489.4 L306.3 489.4 Q307.8 489.4 308.1 491 L308.6 496.4 Z" fill="#fff" stroke="#000" stroke-width="0.9"/>
<line x1="298.4" y1="490.8" x2="305.2" y2="490.8" stroke="#000" stroke-width="0.6"/>
<line x1="299.2" y1="489.6" x2="299.2" y2="494.6" stroke="#000" stroke-width="0.6"/>
<line x1="304.4" y1="489.6" x2="304.4" y2="494.6" stroke="#000" stroke-width="0.6"/>
<rect x="294.7" y="494.6" width="14.2" height="2" rx="0.6" fill="#fff" stroke="#000" stroke-width="0.8"/>
<rect x="93.9" y="515.6" width="33.9" height="2.7" rx="0" fill="#fff" stroke="#000" stroke-width="0.8"/>
<rect x="277" y="515.6" width="33.7" height="2.7" rx="0" fill="#fff" stroke="#000" stroke-width="0.8"/>
<line x1="110.5" y1="511.5" x2="110.5" y2="521.7" stroke="#000" stroke-width="0.7"/>
<line x1="107" y1="516.9" x2="114" y2="516.9" stroke="#000" stroke-width="0.5"/>
<line x1="294.6" y1="510.3" x2="294.6" y2="522" stroke="#000" stroke-width="0.7"/>
<line x1="291" y1="516.9" x2="298" y2="516.9" stroke="#000" stroke-width="0.5"/>
<line x1="95" y1="428" x2="88.1" y2="428" stroke="#000" stroke-width="1"/>
<line x1="88.1" y1="428" x2="72.6" y2="379.5" stroke="#000" stroke-width="1"/>
<path d="M72.6 379.5 L75.76 385.11 L73.28 385.9 Z" fill="#000"/>
<line x1="109.5" y1="398.8" x2="102" y2="398.8" stroke="#000" stroke-width="1"/>
<line x1="102" y1="398.8" x2="87.6" y2="368.3" stroke="#000" stroke-width="1"/>
<path d="M87.6 368.3 L91.47 373.44 L89.11 374.55 Z" fill="#000"/>
<line x1="133" y1="448.6" x2="125.4" y2="448.6" stroke="#000" stroke-width="1"/>
<line x1="125.4" y1="448.6" x2="107.1" y2="489.2" stroke="#000" stroke-width="1"/>
<path d="M107.1 489.2 L108.5 482.92 L110.87 483.99 Z" fill="#000"/>
<line x1="254.6" y1="464" x2="247" y2="464" stroke="#000" stroke-width="1"/>
<line x1="247" y1="464" x2="238.5" y2="496.2" stroke="#000" stroke-width="1"/>
<path d="M238.5 496.2 L238.85 489.78 L241.36 490.44 Z" fill="#000"/>
<line x1="287.5" y1="535.2" x2="280.2" y2="535.2" stroke="#000" stroke-width="1"/>
<line x1="280.2" y1="535.2" x2="285.3" y2="518.9" stroke="#000" stroke-width="1"/>
<path d="M285.3 518.9 L284.66 525.3 L282.18 524.52 Z" fill="#000"/>
<path d="M150.5 483.6 L141.4 483.6 L141.4 496.2" fill="none" stroke="#000" stroke-width="1"/>
<path d="M141.4 496.3 L140.1 490 L142.7 490 Z" fill="#000"/>
<line x1="141.4" y1="499" x2="141.4" y2="508.1" stroke="#000" stroke-width="1"/>
<path d="M141.4 499 L142.7 505.3 L140.1 505.3 Z" fill="#000"/>
<line x1="73.2" y1="498.1" x2="82.2" y2="498.1" stroke="#000" stroke-width="1"/>
<line x1="78.3" y1="485.6" x2="78.3" y2="498.1" stroke="#000" stroke-width="1"/>
<path d="M78.3 498.1 L77 491.8 L79.6 491.8 Z" fill="#000"/>
<line x1="78.3" y1="515.6" x2="78.3" y2="523" stroke="#000" stroke-width="1"/>
<path d="M78.3 515.6 L79.6 521.9 L77 521.9 Z" fill="#000"/>
<line x1="44.9" y1="505" x2="44.9" y2="515.2" stroke="#000" stroke-width="1"/>
<path d="M44.9 515.2 L43.6 508.9 L46.2 508.9 Z" fill="#000"/>
<line x1="39.8" y1="518.3" x2="88" y2="518.3" stroke="#000" stroke-width="1"/>
<path d="M44.9 518.3 L44.9 528.4 L37.3 528.4" fill="none" stroke="#000" stroke-width="1"/>
<path d="M44.9 518.3 L46.2 524.6 L43.6 524.6 Z" fill="#000"/>
<line x1="228" y1="364.6" x2="228" y2="419.5" stroke="#000" stroke-width="1"/>
<line x1="228" y1="439.8" x2="228" y2="496.4" stroke="#000" stroke-width="1"/>
<path d="M228 364.9 L229.3 371.2 L226.7 371.2 Z" fill="#000"/>
<path d="M228 496.2 L226.7 489.9 L229.3 489.9 Z" fill="#000"/>
<line x1="285.8" y1="326" x2="285.8" y2="358.5" stroke="#000" stroke-width="1"/>
<line x1="307.6" y1="326" x2="307.6" y2="357.3" stroke="#000" stroke-width="1"/>
<line x1="276" y1="330.6" x2="307.6" y2="330.6" stroke="#000" stroke-width="1"/>
<path d="M285.8 330.6 L292.1 329.3 L292.1 331.9 Z" fill="#000"/>
<path d="M307.6 330.6 L301.3 331.9 L301.3 329.3 Z" fill="#000"/>
<line x1="298" y1="341.5" x2="307.6" y2="341.5" stroke="#000" stroke-width="1"/>
<path d="M307.6 341.5 L301.3 342.8 L301.3 340.2 Z" fill="#000"/>
<line x1="344.2" y1="336.4" x2="344.2" y2="376.8" stroke="#000" stroke-width="1"/>
<line x1="344.2" y1="341.5" x2="354" y2="341.5" stroke="#000" stroke-width="1"/>
<path d="M344.2 341.5 L350.5 340.2 L350.5 342.8 Z" fill="#000"/>
<line x1="299.7" y1="388.6" x2="299.7" y2="406.4" stroke="#000" stroke-width="1"/>
<line x1="289.5" y1="401.9" x2="299.7" y2="401.9" stroke="#000" stroke-width="1"/>
<path d="M299.7 401.9 L293.4 403.2 L293.4 400.6 Z" fill="#000"/>
<line x1="344.8" y1="401.9" x2="354" y2="401.9" stroke="#000" stroke-width="1"/>
<path d="M344.8 401.9 L351.1 400.6 L351.1 403.2 Z" fill="#000"/>
<line x1="329" y1="434.4" x2="342.3" y2="434.4" stroke="#000" stroke-width="1"/>
<path d="M342.3 434.4 L336 435.7 L336 433.1 Z" fill="#000"/>
<line x1="344.8" y1="434.4" x2="354" y2="434.4" stroke="#000" stroke-width="1"/>
<path d="M344.8 434.4 L351.1 433.1 L351.1 435.7 Z" fill="#000"/>
<line x1="324" y1="496.7" x2="367.5" y2="496.7" stroke="#000" stroke-width="1"/>
<line x1="326" y1="509.5" x2="367.5" y2="509.5" stroke="#000" stroke-width="1"/>
<line x1="362.7" y1="486.6" x2="362.7" y2="496.7" stroke="#000" stroke-width="1"/>
<path d="M362.7 496.7 L361.4 490.4 L364 490.4 Z" fill="#000"/>
<line x1="362.7" y1="509.5" x2="362.7" y2="518.8" stroke="#000" stroke-width="1"/>
<path d="M362.7 509.5 L364 515.8 L361.4 515.8 Z" fill="#000"/>
</svg>
</body></html>
